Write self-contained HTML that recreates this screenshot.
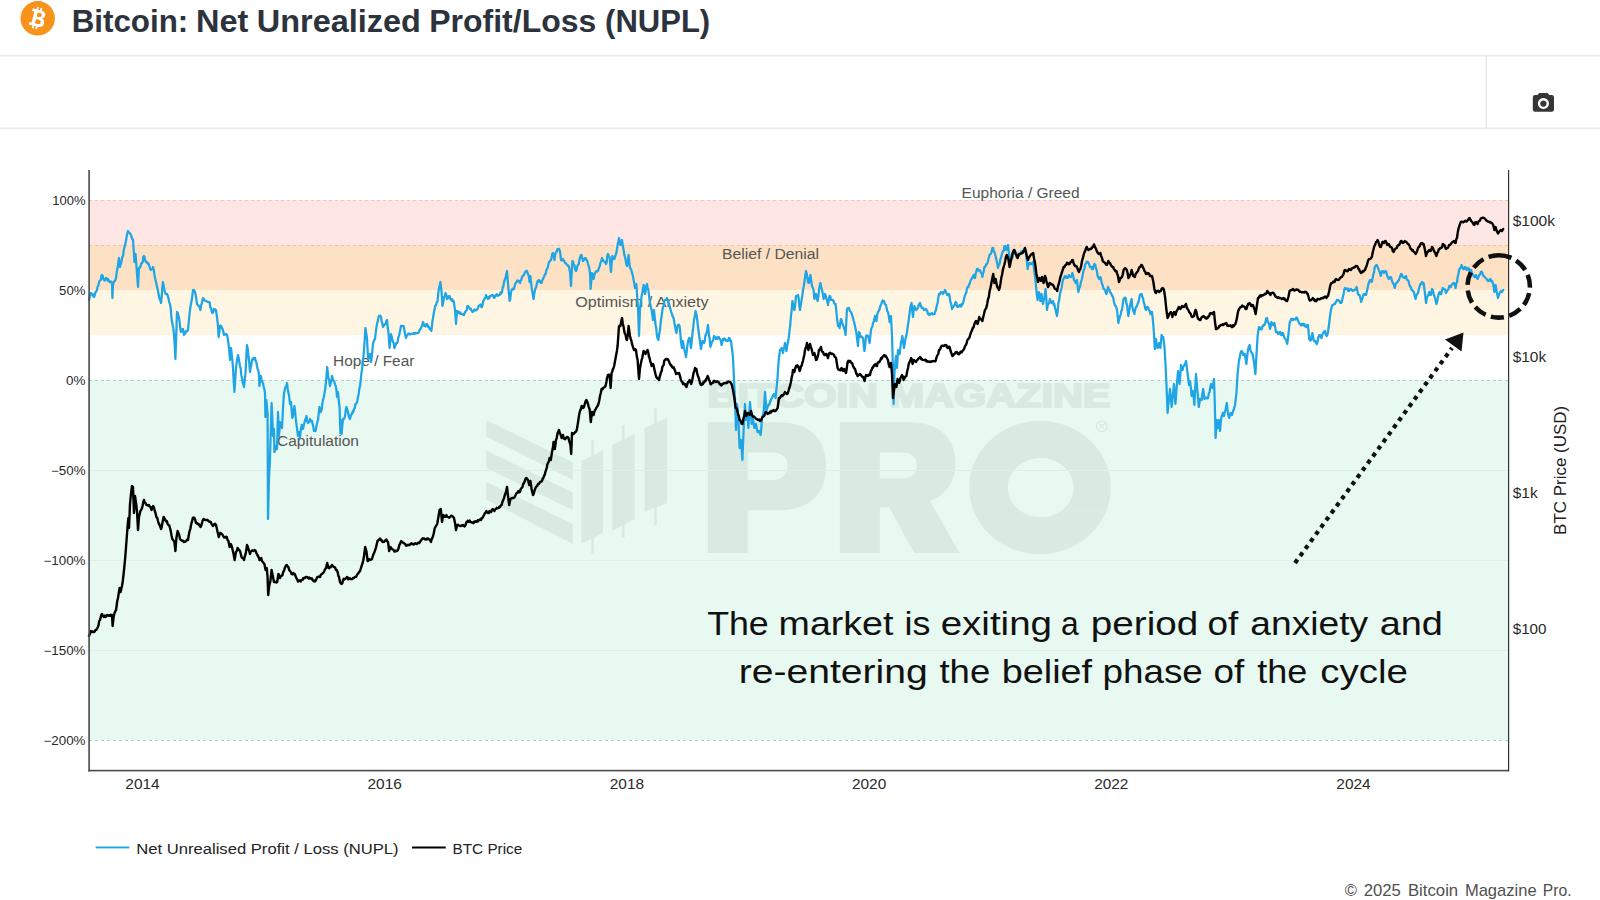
<!DOCTYPE html>
<html><head><meta charset="utf-8">
<style>
html,body{margin:0;padding:0;background:#fff;}
body{width:1600px;height:900px;overflow:hidden;position:relative;font-family:"Liberation Sans",sans-serif;}
svg{position:absolute;left:0;top:0;}
text{font-family:"Liberation Sans",sans-serif;}
.tk{font-size:12px;fill:#2a2a2a;}
.tx{font-size:14.2px;fill:#2a2a2a;}
.zn{font-size:14px;fill:#555;}
.lg{font-size:15.5px;fill:#222;}
</style></head><body>
<svg width="1600" height="900" viewBox="0 0 1600 900">
<!-- header -->
<rect x="0" y="54.95" width="1600" height="1.6" fill="#e9e9e9"/>
<rect x="0" y="127.5" width="1600" height="1.6" fill="#e9e9e9"/>
<rect x="1485.8" y="56" width="1.2" height="72" fill="#e4e4e4"/>
<circle cx="37.7" cy="18.3" r="17.2" fill="#f7931a"/>
<g transform="translate(37.7 18.3) rotate(14)" fill="#fff">
<path d="M-7.2,-8.5 H1.4 c3.4,0 5.2,1.6 5.2,4.1 c0,1.8 -1,3 -2.5,3.6 c2,0.5 3.3,2 3.3,4.2 c0,3 -2.2,4.9 -6,4.9 H-7.2 v-2.7 h2.300 V-5.8 h-2.300 z M-1.5,-5.6 v4 h2.500 c1.400,0 2.200,-0.800 2.200,-2 c0,-1.300 -0.800,-2 -2.200,-2 z M-1.5,1.200 v4.400 h2.900 c1.600,0 2.500,-0.800 2.500,-2.200 c0,-1.400 -0.900,-2.200 -2.500,-2.200 z" fill-rule="evenodd"/>
<rect x="-3.3" y="-11" width="1.8" height="3.2"/><rect x="0.3" y="-11" width="1.8" height="3.2"/>
<rect x="-3.3" y="7.8" width="1.8" height="3.2"/><rect x="0.3" y="7.8" width="1.8" height="3.2"/>
</g>
<g transform="translate(0 -0.33)">
<text x="71.69" y="32" font-size="30.7" fill="#2d333c" font-weight="bold" textLength="116.59" lengthAdjust="spacingAndGlyphs">Bitcoin:</text>
<text x="195.99" y="32" font-size="30.7" fill="#2d333c" font-weight="bold" textLength="52.33" lengthAdjust="spacingAndGlyphs">Net</text>
<text x="256.83" y="32" font-size="30.7" fill="#2d333c" font-weight="bold" textLength="163.96" lengthAdjust="spacingAndGlyphs">Unrealized</text>
<text x="429.26" y="32" font-size="30.7" fill="#2d333c" font-weight="bold" textLength="167.07" lengthAdjust="spacingAndGlyphs">Profit/Loss</text>
<text x="605.14" y="32" font-size="30.7" fill="#2d333c" font-weight="bold" textLength="105.07" lengthAdjust="spacingAndGlyphs">(NUPL)</text>
</g>
<!-- camera -->
<g transform="translate(1543.4 103.4)" fill="#363636">
<path d="M-10.6,-6.2 a2.2,2.2 0 0 1 2.2,-2.2 h2.6 l1.6,-2 h8.4 l1.6,2 h2.6 a2.2,2.2 0 0 1 2.2,2.2 v12.4 a2.2,2.2 0 0 1 -2.2,2.2 h-16.8 a2.2,2.2 0 0 1 -2.2,-2.2 z M0,-5.3 a5.5,5.5 0 1 0 0.01,0 z M0,-3 a3.2,3.2 0 1 1 -0.01,0 z" fill-rule="evenodd"/>
</g>
<!-- bands -->
<rect x="89" y="200" width="1419" height="45" fill="#fee6e4"/>
<rect x="89" y="245" width="1419" height="45" fill="#fde1c4"/>
<rect x="89" y="290" width="1419" height="45" fill="#fef5e2"/>
<rect x="89" y="380" width="1419" height="360" fill="#e7f9f0"/>
<!-- watermark -->
<g fill="#000" opacity="0.054">
<polygon points="486.300,420.200 572.700,462.200 572.700,479.700 486.300,436.500"/>
<polygon points="486.300,450.500 572.700,492.500 572.700,510 486.300,468"/>
<polygon points="486.300,482 572.700,524 572.700,543.800 486.300,499.500"/>
<polygon points="581.500,461 603,450.500 603,533 581.500,543.800"/>
<rect x="591.300" y="440" width="2.600" height="114"/>
<polygon points="612.300,444.700 634.500,434 634.500,519 612.300,531"/>
<rect x="622.000" y="424.800" width="2.600" height="113"/>
<polygon points="644.500,428 667,418 667,503 644.500,512"/>
<rect x="654.200" y="408.500" width="2.600" height="116.500"/>
<text x="707.500" y="407" font-size="34" font-weight="bold" textLength="403" lengthAdjust="spacingAndGlyphs" stroke="#000" stroke-width="2.2" stroke-linejoin="round">BITCOIN MAGAZINE</text>
<!-- P -->
<path fill-rule="evenodd" d="M707.900,422.300 H778 C812,422.300 826,441 826,466.300 C826,491.500 812,510.300 778,510.300 H747.800 V552.900 H707.900 Z M747.800,452.500 V480 H772 C783,480 787.600,474 787.600,466.300 C787.600,458.500 783,452.500 772,452.500 Z"/>
<!-- R -->
<path fill-rule="evenodd" d="M839.900,422.300 H908 C942,422.300 955.400,440 955.400,463.500 C955.400,482 946,495 930,501 L959.500,552.900 H914.100 L889.500,507.500 H879.800 V552.900 H839.900 Z M879.800,452.500 V478.600 H902 C912.500,478.600 916.900,473 916.900,465.500 C916.900,458 912.500,452.500 902,452.500 Z"/>
<!-- O -->
<path fill-rule="evenodd" d="M969.2,487.6 a70.8,66.7 0 1 0 141.6,0 a70.8,66.7 0 1 0 -141.6,0 Z M1007.7,487.6 a33,29.5 0 1 1 66,0 a33,29.5 0 1 1 -66,0 Z"/>
<circle cx="1101.700" cy="426.400" r="5.200" fill="none" stroke="#000" stroke-width="1.300"/>
<text x="1101.700" y="429" font-size="7" font-weight="bold" text-anchor="middle">R</text>
</g>
<!-- grid -->
<g stroke="#deefe7" stroke-width="1">
<line x1="89" y1="470.500" x2="1508" y2="470.500"/>
<line x1="89" y1="560.500" x2="1508" y2="560.500"/>
<line x1="89" y1="650.500" x2="1508" y2="650.500"/>
</g>
<g stroke-width="1" stroke-dasharray="3,3" fill="none">
<line x1="89" y1="200.500" x2="1508" y2="200.500" stroke="#f5c2b6"/>
<line x1="89" y1="245.500" x2="1508" y2="245.500" stroke="#f5c0a6"/>
<line x1="89" y1="380.500" x2="1508" y2="380.500" stroke="#b5cfc1"/>
<line x1="89" y1="740.500" x2="1508" y2="740.500" stroke="#b5cfc1"/>
</g>
<!-- zone labels -->
<g class="zn">
<text x="961.600" y="197.500" textLength="118" lengthAdjust="spacingAndGlyphs">Euphoria / Greed</text>
<text x="722" y="258.600" textLength="97" lengthAdjust="spacingAndGlyphs">Belief / Denial</text>
<text x="575.200" y="306.600" textLength="133.300" lengthAdjust="spacingAndGlyphs">Optimism / Anxiety</text>
<text x="333" y="366" textLength="81.400" lengthAdjust="spacingAndGlyphs">Hope / Fear</text>
<text x="277" y="445.600" textLength="82" lengthAdjust="spacingAndGlyphs">Capitulation</text>
</g>
<!-- lines -->
<path d="M89.0,300.0 L89.7,297.1 L90.3,294.1 L91.0,293.0 L91.8,294.4 L92.5,293.9 L93.2,296.1 L94.0,297.0 L94.8,294.8 L95.5,292.1 L96.2,291.8 L97.0,290.0 L97.6,286.5 L98.2,286.0 L98.9,282.9 L99.5,281.1 L100.1,280.4 L100.8,279.9 L101.4,275.6 L102.0,275.0 L102.7,275.8 L103.3,278.7 L104.0,280.0 L104.7,280.5 L105.3,278.9 L106.0,278.0 L106.8,278.5 L107.5,280.7 L108.2,279.1 L109.0,281.0 L109.8,282.3 L110.5,281.5 L111.2,281.7 L112.0,283.0 L112.4,298.0 L113.0,285.0 L113.8,282.0 L114.5,280.9 L115.2,280.8 L116.0,278.0 L116.8,271.9 L117.5,268.3 L118.2,263.5 L119.0,258.0 L120.0,267.0 L120.8,263.8 L121.5,261.7 L122.2,257.2 L123.0,256.0 L123.7,250.8 L124.3,247.6 L125.0,245.0 L125.8,242.1 L126.5,237.7 L127.2,233.8 L128.0,231.0 L128.8,232.2 L129.5,232.9 L130.2,233.5 L131.0,235.0 L131.7,237.6 L132.3,239.0 L133.0,240.0 L133.7,250.1 L134.4,262.0 L135.6,254.0 L136.4,265.3 L137.2,276.1 L138.0,287.0 L139.0,268.0 L139.8,267.8 L140.5,266.2 L141.2,263.6 L142.0,263.0 L142.7,262.3 L143.3,257.0 L144.0,256.0 L144.7,257.7 L145.3,260.9 L146.0,262.0 L146.8,261.9 L147.5,263.5 L148.2,263.1 L149.0,265.0 L149.7,267.2 L150.3,269.2 L151.0,270.0 L151.7,269.2 L152.3,269.0 L153.0,267.0 L153.8,270.1 L154.5,275.2 L155.2,278.6 L156.0,282.0 L156.7,285.3 L157.3,287.8 L158.0,291.0 L158.8,295.2 L159.5,298.6 L160.2,299.9 L161.0,303.0 L161.7,296.6 L162.3,287.5 L163.0,282.0 L163.7,286.0 L164.3,289.2 L165.0,292.0 L165.7,293.9 L166.3,294.1 L167.0,294.0 L167.8,295.7 L168.5,298.6 L169.2,302.1 L170.0,304.0 L170.7,308.3 L171.3,315.9 L172.0,322.0 L172.7,324.8 L173.3,328.7 L174.0,334.0 L174.7,345.0 L175.4,359.0 L176.2,336.4 L177.0,312.0 L177.7,312.7 L178.3,315.1 L179.0,318.0 L179.7,322.3 L180.3,328.6 L181.0,332.0 L181.7,329.8 L182.3,329.9 L183.0,329.0 L184.0,335.0 L184.7,333.8 L185.3,333.5 L186.0,331.0 L186.7,331.4 L187.3,331.2 L188.0,330.0 L188.7,322.6 L189.3,316.4 L190.0,310.0 L190.8,304.5 L191.5,301.3 L192.2,296.6 L193.0,290.0 L193.7,289.8 L194.3,290.5 L195.0,292.0 L195.7,295.1 L196.3,299.1 L197.0,304.0 L197.7,304.6 L198.3,305.6 L199.0,306.0 L199.7,307.2 L200.4,310.0 L201.1,305.3 L201.7,303.7 L202.3,300.5 L203.0,298.0 L203.8,298.9 L204.5,300.6 L205.2,300.7 L206.0,301.0 L206.8,301.3 L207.5,301.8 L208.2,302.1 L209.0,302.0 L209.7,302.4 L210.3,307.4 L211.0,308.0 L211.7,311.5 L212.4,313.0 L213.2,312.2 L214.0,309.0 L214.7,310.0 L215.3,309.4 L216.0,310.0 L216.7,315.0 L217.3,319.3 L218.0,326.0 L218.6,337.0 L219.3,332.0 L220.0,326.0 L220.7,325.6 L221.3,326.3 L222.0,328.0 L222.7,329.3 L223.3,331.5 L224.0,335.0 L224.8,334.7 L225.5,334.1 L226.2,334.0 L227.0,335.0 L227.7,338.1 L228.3,342.3 L229.0,348.0 L230.0,360.0 L231.0,348.0 L231.7,354.2 L232.3,359.7 L233.0,368.0 L233.7,381.3 L234.4,392.0 L235.2,380.4 L236.0,368.0 L236.7,362.4 L237.3,358.5 L238.0,355.0 L238.7,358.1 L239.3,361.9 L240.0,366.0 L240.7,368.7 L241.3,375.2 L242.0,378.0 L242.7,382.7 L243.3,383.9 L244.0,387.0 L244.8,379.4 L245.6,372.0 L246.3,357.1 L247.0,345.0 L247.7,348.6 L248.3,354.4 L249.0,360.0 L250.0,372.0 L250.7,367.2 L251.3,365.2 L252.0,360.0 L252.8,358.7 L253.5,357.9 L254.2,359.6 L255.0,358.0 L255.7,360.8 L256.3,362.1 L257.0,366.0 L257.7,369.2 L258.3,370.3 L259.0,375.0 L259.4,386.0 L260.2,381.1 L261.0,376.0 L261.7,380.0 L262.3,381.9 L263.0,383.0 L263.7,387.0 L264.3,388.8 L265.0,393.0 L265.4,417.0 L266.4,400.0 L267.6,414.0 L268.0,519.0 L269.0,478.0 L270.0,458.0 L270.8,430.0 L271.6,403.0 L272.3,418.3 L273.0,436.0 L274.0,429.0 L274.4,452.0 L275.2,450.0 L276.0,446.0 L277.0,449.0 L278.0,412.0 L279.0,436.0 L280.0,422.0 L280.7,424.1 L281.3,427.0 L282.0,428.0 L283.0,408.0 L284.0,393.0 L284.8,389.9 L285.5,387.0 L286.2,386.6 L287.0,383.0 L287.7,388.7 L288.3,392.2 L289.0,395.0 L290.0,404.0 L291.0,402.0 L291.7,411.1 L292.4,418.0 L293.1,415.1 L293.7,410.8 L294.4,406.0 L295.2,412.5 L296.0,421.0 L296.7,426.1 L297.3,430.5 L298.0,436.0 L299.0,432.0 L300.0,438.0 L300.8,429.9 L301.6,425.0 L302.3,425.4 L303.0,429.0 L303.7,425.2 L304.4,423.0 L305.1,419.8 L305.7,419.0 L306.4,416.0 L307.2,421.1 L308.0,423.0 L308.7,421.5 L309.3,421.6 L310.0,419.0 L310.7,420.9 L311.3,421.5 L312.0,421.0 L312.7,423.9 L313.3,426.7 L314.0,431.0 L314.8,430.5 L315.6,431.0 L316.4,426.3 L317.2,422.6 L318.0,420.0 L318.7,413.9 L319.4,407.0 L320.2,410.9 L321.0,412.0 L321.7,409.2 L322.3,403.9 L323.0,400.0 L323.7,397.5 L324.4,394.0 L325.2,389.0 L326.0,382.0 L327.2,367.0 L328.4,378.0 L329.2,380.5 L330.0,386.0 L330.7,383.2 L331.3,380.8 L332.0,376.0 L332.8,378.9 L333.6,380.8 L334.4,382.0 L335.1,384.6 L335.7,386.2 L336.4,390.0 L337.0,397.0 L338.0,392.0 L338.8,401.0 L339.6,408.0 L340.4,433.0 L341.0,420.0 L341.6,434.0 L342.3,425.9 L343.0,419.0 L343.7,419.2 L344.4,418.0 L345.1,416.0 L345.7,410.3 L346.4,407.0 L347.2,409.2 L348.0,412.0 L348.7,415.9 L349.3,417.5 L350.0,419.0 L350.7,416.3 L351.3,414.5 L352.0,414.0 L352.7,411.2 L353.3,412.0 L354.0,409.0 L354.7,408.3 L355.3,404.5 L356.0,404.0 L356.7,402.8 L357.3,401.0 L358.0,397.0 L358.7,393.9 L359.3,389.1 L360.0,386.0 L360.7,380.8 L361.3,374.0 L362.0,370.0 L362.7,361.6 L363.3,358.3 L364.0,350.0 L364.7,339.5 L365.4,328.0 L366.2,333.1 L367.0,338.0 L368.0,358.0 L368.7,358.0 L369.3,355.1 L370.0,354.0 L371.0,362.0 L371.7,357.3 L372.3,351.1 L373.0,344.0 L373.7,341.4 L374.3,339.9 L375.0,339.0 L375.7,333.3 L376.3,328.1 L377.0,324.0 L377.7,321.6 L378.3,317.8 L379.0,316.0 L379.7,316.2 L380.3,315.8 L381.0,317.0 L381.7,321.8 L382.3,323.2 L383.0,327.0 L383.7,325.9 L384.3,325.2 L385.0,324.0 L385.7,323.9 L386.3,321.1 L387.0,320.0 L387.7,327.5 L388.4,332.0 L389.6,348.0 L390.3,341.0 L391.0,334.0 L391.7,336.8 L392.3,339.4 L393.0,342.0 L393.7,343.3 L394.4,348.0 L395.0,346.6 L395.7,344.6 L396.4,342.8 L397.0,343.0 L397.7,341.7 L398.3,337.2 L399.0,336.0 L399.7,332.6 L400.3,330.1 L401.0,326.0 L401.6,326.1 L402.3,325.7 L403.0,326.0 L403.6,326.0 L404.4,330.2 L405.2,335.0 L406.0,338.0 L406.7,335.5 L407.3,335.5 L408.0,334.0 L408.8,333.5 L409.5,333.6 L410.2,334.5 L411.0,334.0 L411.8,333.8 L412.5,333.6 L413.2,333.8 L414.0,333.0 L414.7,333.8 L415.3,332.9 L416.0,333.2 L416.7,333.0 L417.3,333.0 L418.0,333.0 L418.8,332.3 L419.5,330.4 L420.2,329.3 L421.0,328.0 L421.7,325.9 L422.3,325.5 L423.0,322.0 L423.7,323.9 L424.3,325.8 L425.0,326.0 L425.7,326.4 L426.3,324.1 L427.0,324.0 L427.7,325.2 L428.3,327.2 L429.0,327.0 L429.8,329.3 L430.6,328.6 L431.4,331.0 L432.2,323.2 L433.0,318.0 L433.7,313.8 L434.4,310.0 L435.2,306.0 L436.0,305.0 L436.8,302.2 L437.6,301.0 L438.3,293.0 L439.0,288.0 L439.7,285.6 L440.4,282.0 L441.6,292.0 L442.4,306.0 L443.2,302.5 L444.0,297.0 L444.8,296.3 L445.6,293.0 L446.3,294.8 L447.0,299.0 L447.7,298.6 L448.3,297.4 L449.0,296.0 L449.7,296.0 L450.3,299.1 L451.0,299.0 L451.6,300.6 L452.3,299.3 L453.0,301.6 L453.6,301.0 L454.3,305.1 L455.0,310.0 L456.0,324.0 L457.0,311.0 L457.7,311.3 L458.3,312.8 L459.0,312.0 L459.7,313.5 L460.3,312.5 L461.0,314.0 L461.8,314.1 L462.5,314.5 L463.2,314.4 L464.0,315.0 L464.7,312.8 L465.3,311.8 L466.0,311.0 L466.7,310.1 L467.3,306.1 L468.0,306.0 L468.7,307.1 L469.3,307.8 L470.0,309.0 L470.8,308.7 L471.6,310.6 L472.4,312.0 L473.0,311.8 L473.7,311.0 L474.4,309.5 L475.0,310.0 L475.8,310.6 L476.5,309.7 L477.2,309.6 L478.0,308.0 L478.7,305.9 L479.3,305.4 L480.0,305.0 L480.7,304.5 L481.3,307.0 L482.0,307.0 L482.7,303.9 L483.3,301.0 L484.0,300.0 L484.7,298.1 L485.3,298.0 L486.0,295.0 L486.7,297.3 L487.3,296.9 L488.0,299.0 L488.7,297.0 L489.3,298.2 L490.0,296.0 L490.7,295.8 L491.3,295.8 L492.0,295.0 L492.7,294.9 L493.3,295.8 L494.0,298.0 L494.7,297.5 L495.3,295.8 L496.0,295.0 L496.8,294.1 L497.5,295.9 L498.2,295.3 L499.0,295.0 L499.8,295.0 L500.5,292.5 L501.2,293.6 L502.0,292.0 L502.7,287.1 L503.3,286.6 L504.0,282.0 L504.8,279.8 L505.6,278.0 L506.3,273.9 L507.0,271.0 L507.7,279.7 L508.4,288.0 L509.6,301.0 L510.3,298.8 L510.9,292.9 L511.6,290.0 L512.4,288.8 L513.2,289.4 L514.0,289.0 L514.7,286.1 L515.3,283.6 L516.0,283.0 L516.7,281.5 L517.3,280.5 L518.0,281.0 L518.7,280.9 L519.3,281.9 L520.0,283.0 L520.7,280.3 L521.3,279.9 L522.0,277.0 L522.7,275.8 L523.3,275.7 L524.0,275.0 L524.7,272.7 L525.3,271.9 L526.0,271.0 L526.7,270.7 L527.3,272.3 L528.0,274.0 L528.8,276.3 L529.6,282.0 L530.4,276.0 L531.2,283.8 L532.0,290.0 L532.8,294.7 L533.6,299.0 L534.3,293.4 L535.0,290.0 L535.7,287.6 L536.3,286.9 L537.0,283.0 L537.7,280.9 L538.3,281.9 L539.0,280.0 L539.7,280.8 L540.3,282.0 L541.0,283.0 L541.7,282.7 L542.3,280.0 L543.0,279.0 L543.7,277.4 L544.3,276.3 L545.0,274.0 L545.7,273.9 L546.3,270.2 L547.0,269.0 L547.7,267.8 L548.3,265.1 L549.0,262.0 L549.7,261.7 L550.3,260.4 L551.0,260.0 L551.7,257.1 L552.3,253.8 L553.0,253.0 L553.7,255.2 L554.4,260.0 L555.2,254.5 L556.0,252.0 L556.7,251.7 L557.3,249.3 L558.0,249.0 L558.8,248.7 L559.6,250.0 L560.3,253.5 L561.0,260.0 L561.7,260.4 L562.3,260.2 L563.0,259.0 L563.7,260.8 L564.3,261.0 L565.0,263.0 L565.7,263.0 L566.3,263.8 L567.0,265.0 L567.7,265.6 L568.3,265.5 L569.0,267.0 L570.0,272.0 L571.0,286.0 L571.7,273.3 L572.4,261.0 L573.1,261.6 L573.7,265.1 L574.4,265.0 L575.2,269.7 L576.0,271.0 L576.7,269.2 L577.3,266.1 L578.0,265.0 L578.8,264.1 L579.5,259.3 L580.2,257.0 L581.0,255.0 L581.7,255.3 L582.3,258.6 L583.0,261.0 L583.6,260.2 L584.3,259.5 L585.0,258.0 L585.6,258.0 L586.4,260.0 L587.2,260.4 L588.0,264.0 L588.7,266.2 L589.3,268.6 L590.0,273.0 L590.6,289.0 L591.3,280.6 L592.0,273.0 L592.8,274.4 L593.6,279.0 L594.3,275.0 L594.9,273.6 L595.6,272.0 L596.4,271.1 L597.2,271.5 L598.0,271.0 L598.8,268.4 L599.6,266.5 L600.4,263.0 L601.2,261.1 L602.0,258.0 L602.7,259.6 L603.3,261.0 L604.0,261.0 L604.7,261.7 L605.3,262.5 L606.0,264.0 L606.7,262.4 L607.3,256.1 L608.0,254.0 L608.8,256.2 L609.6,257.0 L610.3,265.0 L611.0,272.0 L611.7,262.4 L612.4,256.0 L613.1,257.9 L613.7,259.1 L614.4,259.0 L615.0,256.9 L615.7,254.8 L616.4,252.6 L617.0,249.0 L617.7,244.1 L618.3,241.7 L619.0,238.0 L619.7,241.5 L620.4,245.0 L621.2,243.7 L622.0,240.0 L622.8,246.1 L623.6,250.0 L624.3,254.6 L625.0,257.0 L625.7,260.3 L626.3,264.4 L627.0,266.0 L627.8,261.1 L628.6,255.0 L629.3,262.2 L630.0,268.0 L630.7,268.8 L631.3,269.8 L632.0,273.0 L632.8,275.2 L633.6,280.0 L634.3,283.5 L635.0,288.0 L635.7,284.6 L636.4,284.0 L637.2,297.2 L638.0,308.0 L639.0,336.0 L640.0,309.0 L640.8,302.7 L641.6,296.0 L642.3,292.8 L642.9,289.1 L643.6,285.0 L644.3,290.1 L645.0,294.0 L645.7,290.6 L646.3,285.6 L647.0,284.0 L647.7,288.0 L648.4,290.0 L649.2,297.4 L650.0,303.0 L650.8,306.5 L651.6,310.0 L652.3,315.1 L653.0,320.0 L654.0,310.0 L654.8,318.1 L655.6,325.0 L656.3,329.0 L657.0,336.0 L657.7,338.8 L658.4,340.0 L659.2,334.1 L660.0,330.0 L660.8,321.5 L661.6,316.0 L662.3,310.7 L663.0,307.0 L663.7,305.5 L664.3,301.3 L665.0,300.0 L665.7,299.9 L666.3,299.9 L667.0,298.0 L667.7,300.0 L668.3,301.6 L669.0,304.0 L669.7,306.4 L670.4,309.0 L671.2,312.1 L672.0,314.0 L672.8,316.9 L673.6,318.0 L674.3,322.4 L675.0,326.0 L675.7,330.0 L676.4,333.0 L677.2,327.5 L678.0,325.0 L678.8,324.7 L679.6,326.0 L680.3,333.1 L681.0,342.0 L682.0,348.0 L683.0,341.0 L683.7,346.4 L684.4,350.0 L685.2,352.8 L686.0,357.0 L686.8,350.7 L687.6,344.0 L688.3,340.3 L688.9,338.5 L689.6,338.0 L690.3,342.2 L691.0,348.0 L691.7,341.6 L692.4,334.0 L693.2,327.7 L694.0,320.0 L694.8,316.1 L695.6,311.0 L696.3,313.8 L697.0,318.0 L697.7,324.1 L698.4,330.0 L699.2,335.9 L700.0,342.0 L701.0,349.0 L701.7,344.9 L702.4,341.0 L703.2,341.0 L704.0,343.0 L704.7,341.4 L705.3,335.9 L706.0,334.0 L706.7,332.7 L707.3,329.5 L708.0,325.0 L709.0,335.0 L709.7,339.3 L710.4,347.0 L711.2,344.4 L712.0,342.0 L712.7,341.1 L713.3,339.6 L714.0,336.0 L714.7,336.9 L715.3,337.4 L716.0,339.0 L716.7,337.6 L717.3,338.8 L718.0,337.0 L718.7,336.9 L719.3,338.5 L720.0,339.0 L720.8,340.7 L721.6,345.0 L722.3,342.1 L723.0,339.0 L723.7,339.9 L724.3,338.3 L725.0,339.0 L725.7,340.5 L726.3,340.4 L727.0,341.0 L727.7,341.1 L728.3,339.6 L729.0,338.0 L729.7,338.3 L730.3,341.1 L731.0,341.0 L731.7,346.5 L732.4,352.0 L733.0,358.0 L734.0,380.0 L735.0,400.0 L736.0,430.0 L737.0,404.0 L737.7,410.3 L738.4,420.0 L739.6,448.0 L740.3,442.3 L741.0,440.0 L741.7,450.0 L742.4,460.0 L743.6,430.0 L744.3,416.8 L745.0,404.0 L746.0,420.0 L746.8,417.4 L747.6,416.0 L748.4,428.0 L749.2,413.7 L750.0,402.0 L750.8,412.5 L751.6,424.0 L752.3,420.4 L753.0,418.0 L753.7,424.2 L754.4,428.0 L755.2,424.4 L756.0,424.0 L756.8,428.9 L757.6,432.0 L758.3,432.3 L759.0,431.0 L759.8,431.8 L760.6,435.0 L761.3,428.0 L762.0,418.0 L762.8,415.7 L763.6,412.0 L764.3,403.4 L765.0,392.0 L765.7,400.8 L766.4,411.0 L767.2,408.1 L768.0,406.0 L768.7,404.3 L769.3,404.8 L770.0,402.0 L770.7,400.9 L771.3,398.9 L772.0,398.0 L772.7,396.5 L773.3,394.7 L774.0,394.0 L774.8,394.5 L775.6,398.0 L776.3,389.6 L777.0,384.0 L777.7,375.2 L778.4,364.0 L779.2,356.2 L780.0,350.0 L780.8,350.1 L781.6,348.0 L782.3,349.6 L783.0,353.0 L783.7,348.8 L784.3,346.4 L785.0,343.0 L785.7,345.9 L786.4,351.0 L787.2,346.1 L788.0,342.0 L788.8,337.6 L789.6,330.0 L790.3,324.3 L791.0,316.0 L791.7,309.6 L792.4,301.0 L793.1,304.5 L793.7,308.4 L794.4,310.0 L795.2,304.5 L796.0,296.0 L796.7,295.8 L797.3,295.8 L798.0,295.0 L798.7,298.4 L799.3,305.8 L800.0,310.0 L800.8,304.8 L801.6,300.0 L802.3,295.9 L803.0,290.0 L803.7,286.5 L804.4,282.0 L805.2,275.8 L806.0,271.0 L806.8,273.9 L807.6,280.0 L808.3,282.8 L809.0,283.0 L809.7,277.7 L810.4,275.0 L811.2,280.4 L812.0,286.0 L812.8,287.5 L813.6,290.0 L814.4,299.0 L815.2,295.8 L816.0,294.0 L816.8,298.3 L817.6,301.0 L818.3,297.2 L819.0,290.0 L819.7,285.7 L820.4,283.0 L821.2,287.0 L822.0,290.0 L822.8,293.8 L823.6,299.0 L824.3,296.7 L825.0,294.0 L825.7,296.1 L826.4,299.0 L827.2,300.8 L828.0,305.0 L828.8,299.3 L829.6,296.0 L830.3,296.5 L830.9,299.9 L831.6,300.0 L832.3,300.3 L832.9,300.0 L833.6,301.0 L834.3,303.1 L834.9,304.4 L835.6,304.0 L836.3,310.8 L837.0,318.0 L838.0,326.0 L838.8,326.1 L839.6,328.0 L840.3,322.4 L841.0,319.0 L841.7,320.1 L842.4,324.0 L843.2,325.5 L844.0,328.0 L844.8,330.1 L845.6,335.0 L846.3,321.1 L847.0,309.0 L847.7,308.1 L848.3,308.5 L849.0,308.0 L849.7,310.5 L850.3,311.4 L851.0,312.0 L851.7,313.7 L852.3,315.7 L853.0,318.0 L853.7,320.8 L854.3,322.9 L855.0,326.0 L855.7,329.4 L856.3,332.5 L857.0,338.0 L858.0,346.0 L859.0,332.0 L859.7,332.9 L860.3,336.9 L861.0,337.0 L861.7,336.5 L862.3,337.7 L863.0,338.0 L863.7,345.0 L864.4,351.0 L865.2,344.8 L866.0,336.0 L866.7,335.4 L867.3,335.5 L868.0,336.0 L868.8,338.6 L869.6,343.0 L870.3,336.1 L871.0,330.0 L871.7,327.5 L872.3,326.9 L873.0,323.0 L873.7,321.9 L874.3,319.6 L875.0,316.0 L875.7,316.8 L876.4,321.0 L877.2,314.9 L878.0,312.0 L878.7,311.0 L879.3,310.0 L880.0,307.0 L880.7,305.2 L881.3,303.9 L882.0,302.0 L882.7,300.5 L883.3,301.1 L884.0,301.0 L884.7,303.6 L885.3,304.6 L886.0,305.0 L886.7,308.6 L887.3,311.3 L888.0,312.0 L888.8,316.1 L889.6,322.0 L890.3,317.6 L891.0,316.0 L892.0,336.0 L893.0,370.0 L893.6,404.0 L894.4,374.0 L895.2,363.8 L896.0,356.0 L897.0,368.0 L898.0,350.0 L898.8,352.1 L899.6,354.0 L900.3,348.6 L901.0,342.0 L901.7,340.5 L902.4,336.0 L903.2,342.8 L904.0,348.0 L904.8,343.5 L905.6,338.0 L906.3,335.9 L907.0,332.0 L907.7,326.9 L908.4,322.0 L909.2,316.2 L910.0,310.0 L910.8,304.9 L911.6,303.0 L912.3,311.0 L913.0,317.0 L913.7,310.6 L914.4,306.0 L915.1,308.6 L915.7,309.1 L916.4,310.0 L917.2,308.5 L918.0,308.0 L918.7,305.1 L919.3,303.9 L920.0,303.0 L920.7,305.1 L921.3,307.0 L922.0,308.0 L922.7,307.7 L923.3,308.3 L924.0,310.0 L924.7,309.7 L925.3,309.5 L926.0,309.0 L926.7,310.3 L927.3,311.4 L928.0,314.0 L928.7,314.6 L929.3,313.6 L930.0,315.0 L930.7,313.8 L931.3,313.6 L932.0,313.0 L932.7,314.4 L933.3,314.0 L934.0,314.0 L934.7,313.8 L935.3,311.3 L936.0,310.0 L936.8,305.6 L937.6,303.0 L938.3,297.6 L939.0,294.0 L939.7,294.5 L940.3,293.2 L941.0,292.0 L941.7,292.2 L942.3,292.1 L943.0,294.0 L943.7,292.7 L944.3,291.9 L945.0,290.0 L945.7,291.4 L946.3,292.5 L947.0,295.0 L947.7,295.0 L948.3,295.3 L949.0,294.0 L949.7,297.0 L950.4,302.0 L951.2,303.9 L952.0,309.0 L952.7,307.6 L953.3,306.8 L954.0,306.0 L954.8,304.6 L955.6,302.0 L956.3,302.7 L956.9,306.3 L957.6,307.0 L958.3,306.9 L958.9,305.7 L959.6,305.0 L960.3,304.7 L960.9,306.7 L961.6,306.0 L962.3,303.7 L962.9,303.7 L963.6,301.0 L964.3,297.7 L964.9,295.4 L965.6,294.0 L966.3,292.6 L966.9,288.6 L967.6,287.0 L968.3,287.2 L968.9,285.0 L969.6,284.0 L970.3,281.3 L970.9,279.8 L971.6,279.0 L972.3,277.4 L972.9,276.8 L973.6,275.0 L974.3,277.9 L975.0,278.0 L975.7,273.8 L976.3,271.6 L977.0,269.0 L977.7,268.7 L978.3,270.7 L979.0,270.0 L979.7,270.0 L980.3,270.8 L981.0,273.0 L981.7,273.5 L982.4,277.0 L983.1,273.3 L983.7,271.7 L984.4,267.0 L985.1,267.1 L985.7,265.6 L986.4,264.0 L987.1,264.0 L987.7,262.1 L988.4,259.0 L989.1,256.8 L989.7,254.6 L990.4,254.0 L991.1,253.5 L991.7,250.9 L992.4,248.0 L993.1,247.9 L993.7,251.2 L994.4,252.0 L995.2,254.6 L996.0,258.0 L996.7,260.9 L997.3,264.1 L998.0,268.0 L998.8,264.9 L999.6,264.0 L1000.3,259.3 L1001.0,258.0 L1001.7,254.9 L1002.3,252.8 L1003.0,251.0 L1003.7,250.8 L1004.3,246.4 L1005.0,246.0 L1005.7,249.6 L1006.4,250.0 L1007.2,246.5 L1008.0,245.0 L1009.0,254.0 L1009.7,256.5 L1010.4,260.0 L1011.2,259.8 L1012.0,258.0 L1012.7,256.5 L1013.3,252.4 L1014.0,250.0 L1014.7,249.8 L1015.3,251.9 L1016.0,253.0 L1016.7,253.6 L1017.3,256.2 L1018.0,256.0 L1018.7,254.2 L1019.3,253.6 L1020.0,253.0 L1020.7,253.6 L1021.3,251.3 L1022.0,252.0 L1022.7,250.8 L1023.3,250.9 L1024.0,249.0 L1024.7,251.5 L1025.3,250.8 L1026.0,254.0 L1026.8,259.9 L1027.6,269.0 L1028.3,264.5 L1029.0,263.0 L1029.7,264.3 L1030.3,263.1 L1031.0,264.0 L1031.7,264.0 L1032.3,263.7 L1033.0,262.0 L1033.7,266.4 L1034.4,272.0 L1035.2,278.2 L1036.0,286.0 L1036.8,294.6 L1037.6,300.0 L1038.3,296.4 L1039.0,292.0 L1039.7,295.7 L1040.4,301.0 L1041.6,294.0 L1042.3,299.8 L1043.0,304.0 L1043.7,300.4 L1044.4,298.0 L1045.6,289.0 L1046.3,298.7 L1047.0,310.0 L1047.7,305.3 L1048.4,304.0 L1049.2,302.4 L1050.0,299.0 L1050.8,302.4 L1051.6,303.0 L1052.3,302.4 L1053.0,301.0 L1053.7,304.9 L1054.3,304.0 L1055.0,308.0 L1055.7,309.7 L1056.3,313.2 L1057.0,316.0 L1057.7,311.1 L1058.4,303.0 L1059.2,300.1 L1060.0,294.0 L1060.8,290.6 L1061.6,288.0 L1062.3,283.1 L1063.0,280.0 L1063.7,278.5 L1064.3,277.3 L1065.0,276.0 L1065.7,277.7 L1066.3,276.5 L1067.0,278.0 L1067.7,277.8 L1068.3,276.7 L1069.0,275.0 L1069.7,276.5 L1070.3,277.0 L1071.0,277.0 L1071.7,275.4 L1072.4,273.0 L1073.2,275.9 L1074.0,280.0 L1074.8,281.0 L1075.6,283.0 L1076.3,281.1 L1077.0,280.0 L1077.7,287.0 L1078.4,292.0 L1079.2,288.0 L1080.0,287.0 L1080.8,282.4 L1081.6,280.0 L1082.3,277.4 L1083.0,273.0 L1083.7,270.1 L1084.4,269.0 L1085.2,264.5 L1086.0,263.0 L1086.7,261.6 L1087.3,262.5 L1088.0,262.0 L1088.8,263.4 L1089.6,266.0 L1090.3,267.4 L1090.9,267.5 L1091.6,267.0 L1092.3,269.3 L1093.0,269.0 L1093.7,265.7 L1094.4,264.0 L1095.2,264.6 L1096.0,268.0 L1096.8,270.6 L1097.6,276.0 L1098.3,277.5 L1099.0,279.0 L1099.7,278.6 L1100.4,277.0 L1101.2,280.3 L1102.0,284.0 L1102.8,285.6 L1103.6,289.0 L1104.3,289.3 L1105.0,290.0 L1105.7,292.4 L1106.4,294.0 L1107.2,291.1 L1108.0,287.0 L1108.8,289.2 L1109.6,290.0 L1110.3,292.6 L1111.0,293.0 L1111.7,295.0 L1112.4,296.0 L1113.2,297.7 L1114.0,302.0 L1114.8,305.1 L1115.6,306.0 L1116.3,307.3 L1117.0,310.0 L1117.7,316.7 L1118.4,323.0 L1119.2,319.1 L1120.0,316.0 L1120.7,314.8 L1121.3,310.9 L1122.0,310.0 L1122.8,303.6 L1123.6,299.0 L1124.3,298.1 L1124.9,297.6 L1125.6,298.0 L1126.3,302.8 L1127.0,305.0 L1127.7,310.8 L1128.4,316.0 L1129.2,310.4 L1130.0,306.0 L1130.8,302.1 L1131.6,299.0 L1132.3,306.2 L1133.0,310.0 L1133.7,312.0 L1134.4,314.0 L1135.2,309.6 L1136.0,307.0 L1136.7,306.6 L1137.3,304.8 L1138.0,303.0 L1138.8,301.2 L1139.6,296.0 L1140.3,294.3 L1140.9,294.6 L1141.6,294.0 L1142.3,297.1 L1143.0,298.0 L1143.7,302.2 L1144.4,304.0 L1145.2,308.5 L1146.0,310.0 L1146.8,307.1 L1147.6,307.0 L1148.3,307.9 L1149.0,310.0 L1149.7,310.7 L1150.4,314.0 L1151.2,312.2 L1152.0,312.0 L1153.0,321.0 L1154.0,334.0 L1154.8,349.0 L1156.0,339.0 L1156.8,345.2 L1157.6,348.0 L1158.4,345.8 L1159.2,343.0 L1160.4,348.0 L1161.6,335.0 L1162.4,337.1 L1163.2,337.0 L1164.4,346.0 L1165.6,366.0 L1166.6,388.0 L1167.6,413.0 L1168.8,400.0 L1170.0,389.0 L1170.8,397.6 L1171.6,407.0 L1172.8,396.0 L1174.0,384.0 L1174.7,395.3 L1175.4,404.0 L1176.1,394.8 L1176.8,386.0 L1178.0,371.0 L1178.8,376.7 L1179.6,384.0 L1180.3,375.5 L1181.0,365.0 L1181.8,369.1 L1182.6,370.0 L1183.3,366.6 L1184.0,366.0 L1184.7,364.6 L1185.3,363.1 L1186.0,361.0 L1186.8,366.5 L1187.6,374.0 L1188.3,379.0 L1189.0,385.0 L1190.0,381.0 L1190.8,387.2 L1191.6,396.0 L1192.8,391.0 L1193.6,397.0 L1194.4,405.0 L1195.2,388.6 L1196.0,374.0 L1197.2,388.0 L1198.0,397.8 L1198.8,407.0 L1200.0,399.0 L1200.8,399.9 L1201.6,400.0 L1202.4,393.5 L1203.2,389.0 L1204.4,399.0 L1205.2,397.4 L1206.0,398.0 L1206.7,397.7 L1207.3,398.4 L1208.0,398.0 L1208.8,393.9 L1209.6,392.0 L1210.3,387.3 L1211.0,384.0 L1211.7,385.0 L1212.4,388.0 L1213.2,384.5 L1214.0,379.0 L1214.8,404.0 L1215.6,438.0 L1216.8,420.0 L1218.0,428.0 L1219.2,420.0 L1220.0,431.0 L1221.2,418.0 L1222.0,415.7 L1222.8,413.0 L1224.0,416.0 L1224.8,411.5 L1225.6,410.0 L1226.8,403.0 L1228.0,414.0 L1229.2,418.0 L1230.4,413.0 L1231.2,413.0 L1232.0,415.0 L1232.8,412.1 L1233.6,410.0 L1234.3,407.7 L1235.0,405.0 L1235.7,399.5 L1236.4,393.0 L1237.6,374.0 L1238.8,362.0 L1240.0,356.0 L1240.8,352.1 L1241.6,351.0 L1242.4,351.9 L1243.2,355.0 L1244.0,355.0 L1244.8,354.0 L1245.6,358.7 L1246.4,364.0 L1247.2,356.2 L1248.0,350.0 L1248.8,346.8 L1249.6,345.0 L1250.4,350.1 L1251.2,352.0 L1252.0,352.9 L1252.8,355.0 L1254.0,362.0 L1254.7,368.2 L1255.4,374.0 L1256.4,356.0 L1257.6,336.0 L1258.3,331.0 L1259.0,327.0 L1259.7,327.5 L1260.3,329.2 L1261.0,329.0 L1261.7,329.4 L1262.3,326.6 L1263.0,326.0 L1263.7,324.6 L1264.3,325.2 L1265.0,324.0 L1265.7,321.0 L1266.3,318.3 L1267.0,318.0 L1267.8,321.9 L1268.6,323.0 L1269.3,325.7 L1270.0,329.0 L1270.7,326.6 L1271.4,322.0 L1272.2,323.2 L1273.0,325.0 L1273.7,325.0 L1274.4,323.0 L1275.2,327.4 L1276.0,332.0 L1276.7,331.8 L1277.3,332.1 L1278.0,334.0 L1278.7,333.5 L1279.3,333.0 L1280.0,332.0 L1280.8,334.7 L1281.6,335.0 L1282.3,332.9 L1283.0,333.0 L1283.7,335.9 L1284.4,338.0 L1285.2,338.7 L1286.0,340.0 L1287.2,344.0 L1288.4,335.0 L1289.6,323.0 L1290.4,321.0 L1291.2,319.0 L1292.1,318.7 L1293.0,320.0 L1293.7,319.2 L1294.3,319.4 L1295.0,319.0 L1295.7,319.6 L1296.3,317.5 L1297.0,318.0 L1297.8,320.0 L1298.6,322.0 L1299.5,323.8 L1300.4,324.0 L1301.1,325.4 L1301.7,324.0 L1302.4,325.0 L1303.1,323.8 L1303.7,325.3 L1304.4,324.0 L1305.1,326.3 L1305.7,326.0 L1306.4,327.0 L1307.2,324.8 L1308.0,325.0 L1309.2,339.0 L1310.1,340.5 L1311.0,340.0 L1311.7,336.1 L1312.4,333.0 L1313.6,340.0 L1314.4,341.4 L1315.2,341.0 L1316.0,342.9 L1316.8,344.0 L1317.6,341.6 L1318.4,337.0 L1319.2,335.1 L1320.0,335.0 L1320.8,337.3 L1321.6,338.0 L1322.4,334.5 L1323.2,333.0 L1324.1,331.8 L1325.0,331.0 L1325.8,334.7 L1326.6,336.0 L1327.3,335.1 L1328.0,332.0 L1329.2,323.0 L1330.4,313.0 L1331.6,307.0 L1332.4,305.2 L1333.2,305.0 L1334.1,303.9 L1335.0,304.0 L1335.7,302.4 L1336.3,301.4 L1337.0,300.0 L1337.7,300.1 L1338.3,299.8 L1339.0,301.0 L1339.7,301.0 L1340.3,302.9 L1341.0,303.0 L1341.7,302.4 L1342.4,299.0 L1343.6,294.0 L1344.3,289.4 L1345.0,288.0 L1345.7,288.5 L1346.3,289.2 L1347.0,289.0 L1347.7,288.5 L1348.3,291.2 L1349.0,291.0 L1349.7,289.4 L1350.3,289.9 L1351.0,289.0 L1351.7,289.8 L1352.3,290.7 L1353.0,291.0 L1353.7,290.2 L1354.3,290.2 L1355.0,290.0 L1355.8,288.7 L1356.6,287.0 L1357.3,290.2 L1358.0,294.0 L1358.8,294.9 L1359.6,295.0 L1360.4,298.3 L1361.2,302.0 L1362.0,299.3 L1362.8,297.0 L1363.6,294.1 L1364.4,294.0 L1365.2,294.8 L1366.0,295.0 L1367.2,290.0 L1368.4,284.0 L1369.2,282.0 L1370.0,280.0 L1370.8,280.3 L1371.6,282.0 L1372.4,279.4 L1373.2,275.0 L1374.0,272.0 L1374.8,267.0 L1375.6,265.9 L1376.4,265.0 L1377.2,265.6 L1378.0,268.0 L1378.8,269.9 L1379.6,272.0 L1380.8,276.0 L1381.6,272.1 L1382.4,271.0 L1383.2,271.0 L1384.0,273.0 L1384.8,271.8 L1385.6,271.0 L1386.4,272.1 L1387.2,276.0 L1388.0,277.3 L1388.8,279.0 L1389.6,278.0 L1390.4,277.0 L1391.2,277.5 L1392.0,281.0 L1392.8,282.9 L1393.6,284.0 L1394.8,288.0 L1395.6,284.0 L1396.4,283.0 L1397.2,282.6 L1398.0,281.0 L1398.8,280.3 L1399.6,278.0 L1400.3,276.0 L1401.0,274.0 L1401.8,274.2 L1402.6,277.0 L1403.5,277.5 L1404.4,278.0 L1405.2,276.7 L1406.0,276.0 L1406.8,279.5 L1407.6,280.0 L1408.4,280.8 L1409.2,284.0 L1410.0,286.5 L1410.8,287.0 L1411.6,290.0 L1412.4,290.0 L1413.2,291.6 L1414.0,292.0 L1414.8,296.6 L1415.6,299.0 L1416.4,295.4 L1417.2,294.0 L1418.0,293.2 L1418.8,289.0 L1419.6,286.5 L1420.4,284.0 L1421.2,284.2 L1422.0,282.0 L1422.8,283.5 L1423.6,283.0 L1424.8,292.0 L1426.0,303.0 L1426.8,298.3 L1427.6,296.0 L1428.4,294.9 L1429.2,292.0 L1430.0,294.8 L1430.8,295.0 L1432.0,289.0 L1432.8,290.0 L1433.6,294.0 L1434.4,296.0 L1435.2,299.0 L1436.4,304.0 L1437.2,301.4 L1438.0,297.0 L1438.8,293.3 L1439.6,292.0 L1440.4,294.0 L1441.2,294.0 L1442.0,290.2 L1442.8,288.0 L1443.6,289.2 L1444.4,289.0 L1445.2,289.8 L1446.0,293.0 L1446.8,291.5 L1447.6,290.0 L1448.4,289.4 L1449.2,286.0 L1450.0,285.8 L1450.8,287.0 L1451.6,284.8 L1452.4,284.0 L1453.2,283.5 L1454.0,283.0 L1454.8,284.9 L1455.6,288.0 L1456.3,283.4 L1457.0,282.0 L1457.7,276.9 L1458.4,274.0 L1459.2,269.8 L1460.0,268.0 L1460.8,267.8 L1461.6,265.0 L1462.4,267.6 L1463.2,269.0 L1464.0,269.0 L1464.8,267.0 L1465.6,267.5 L1466.4,270.0 L1467.2,269.7 L1468.0,268.0 L1468.8,268.4 L1469.6,271.0 L1470.4,270.6 L1471.2,270.0 L1472.0,273.0 L1472.8,275.0 L1473.6,275.6 L1474.4,277.0 L1475.2,277.0 L1476.0,275.0 L1476.8,277.2 L1477.6,279.0 L1478.4,277.3 L1479.2,275.0 L1480.0,274.6 L1480.8,272.0 L1481.6,271.6 L1482.4,273.0 L1483.2,275.9 L1484.0,276.0 L1484.8,277.3 L1485.6,278.0 L1486.4,278.7 L1487.2,280.0 L1488.0,281.2 L1488.8,281.0 L1489.6,279.4 L1490.4,279.0 L1491.2,281.3 L1492.0,281.0 L1493.2,284.0 L1494.4,292.0 L1495.6,285.0 L1496.8,292.0 L1498.0,298.0 L1499.2,294.0 L1500.0,292.7 L1500.8,291.0 L1502.0,292.0 L1503.2,290.0" fill="none" stroke="#1fa5e6" stroke-width="2.25" stroke-linejoin="round" stroke-linecap="round"/>
<path d="M89.0,636.0 L89.7,634.2 L90.3,632.8 L91.0,631.0 L91.8,632.0 L92.5,631.4 L93.2,631.8 L94.0,632.0 L94.8,631.4 L95.5,629.9 L96.2,629.8 L97.0,629.0 L97.8,627.1 L98.5,625.3 L99.2,621.1 L100.0,620.0 L100.7,617.4 L101.3,614.9 L102.0,614.0 L102.7,615.7 L103.3,616.4 L104.0,617.0 L104.8,615.6 L105.5,616.9 L106.2,616.4 L107.0,615.0 L107.8,615.5 L108.5,615.7 L109.2,615.2 L110.0,616.0 L110.7,614.8 L111.3,615.4 L112.0,615.0 L112.6,626.0 L113.6,617.0 L114.4,613.4 L115.2,611.5 L116.0,610.0 L116.7,605.3 L117.3,600.7 L118.0,598.0 L118.8,592.9 L119.6,588.0 L120.6,592.0 L121.3,588.8 L122.0,586.0 L122.8,581.0 L123.6,574.0 L124.3,567.1 L125.0,560.0 L125.7,551.4 L126.4,542.0 L127.6,526.0 L128.4,518.0 L129.0,528.0 L130.0,504.0 L131.0,494.0 L132.0,486.0 L133.0,487.0 L134.0,513.0 L135.0,496.0 L136.0,503.0 L137.0,511.0 L138.0,530.0 L139.0,517.0 L139.7,514.0 L140.4,511.0 L141.2,509.9 L142.0,508.0 L142.7,505.2 L143.3,502.0 L144.0,500.0 L144.8,502.7 L145.6,503.0 L146.4,505.0 L147.2,505.0 L148.0,505.5 L148.8,505.0 L149.6,506.4 L150.4,507.0 L151.6,510.0 L152.4,507.5 L153.2,506.0 L154.0,507.7 L154.8,511.0 L155.6,513.4 L156.4,517.0 L157.2,517.9 L158.0,521.0 L158.8,523.7 L159.6,525.0 L160.3,526.7 L161.0,529.0 L161.7,527.0 L162.4,523.0 L163.6,517.0 L164.4,518.2 L165.2,520.0 L166.0,521.3 L166.8,521.0 L167.6,523.9 L168.4,525.0 L169.2,525.3 L170.0,528.0 L170.8,531.2 L171.6,536.0 L172.4,539.1 L173.2,540.0 L174.4,542.0 L175.4,551.0 L176.4,538.0 L177.6,531.0 L178.4,532.9 L179.2,535.0 L180.0,538.8 L180.8,540.0 L181.6,540.3 L182.4,541.0 L183.2,540.7 L184.0,542.0 L184.7,541.9 L185.3,541.8 L186.0,541.0 L186.7,540.3 L187.3,539.6 L188.0,540.0 L188.8,535.0 L189.6,531.0 L190.4,528.8 L191.2,524.0 L192.0,521.7 L192.8,518.0 L193.6,517.4 L194.4,518.0 L195.2,519.8 L196.0,523.0 L196.8,522.8 L197.6,524.0 L198.4,523.7 L199.2,525.0 L200.4,527.0 L201.2,525.8 L202.0,523.0 L202.8,520.2 L203.6,519.0 L204.4,519.6 L205.2,520.0 L206.0,519.9 L206.8,520.0 L207.6,519.9 L208.4,521.0 L209.2,521.7 L210.0,521.6 L210.8,522.0 L211.6,524.0 L212.8,526.0 L213.6,525.3 L214.4,524.0 L215.2,523.8 L216.0,525.0 L216.8,528.3 L217.6,532.0 L218.8,537.0 L220.0,533.0 L220.8,533.0 L221.6,534.0 L222.4,534.5 L223.2,536.0 L224.0,537.4 L224.8,537.0 L225.5,537.5 L226.1,536.7 L226.8,537.0 L227.6,540.0 L228.4,541.0 L229.6,547.0 L230.8,544.0 L231.6,545.7 L232.4,549.0 L233.6,554.0 L234.6,560.0 L235.3,555.7 L236.0,552.0 L236.8,550.9 L237.6,548.0 L238.4,549.3 L239.2,550.0 L240.0,551.0 L240.8,554.0 L241.6,557.3 L242.4,558.0 L243.2,558.4 L244.0,560.0 L244.8,556.3 L245.6,554.0 L246.3,550.3 L247.0,545.0 L247.7,546.5 L248.4,549.0 L249.2,550.9 L250.0,554.0 L250.8,551.5 L251.6,551.0 L252.4,550.3 L253.2,551.0 L254.0,550.7 L254.8,550.0 L255.6,550.9 L256.4,553.0 L257.2,554.7 L258.0,556.0 L258.8,557.7 L259.6,560.0 L260.4,558.9 L261.2,558.0 L262.0,561.2 L262.8,562.0 L263.6,563.0 L264.4,564.0 L265.6,570.0 L266.8,568.0 L267.6,578.0 L268.2,595.0 L269.2,586.0 L270.4,581.0 L271.6,570.0 L272.8,576.0 L274.0,582.0 L274.8,582.1 L275.6,582.0 L276.4,582.6 L277.2,582.0 L278.4,574.0 L279.2,575.2 L280.0,578.0 L280.8,576.3 L281.6,576.0 L282.4,575.1 L283.2,572.0 L284.0,570.8 L284.8,568.0 L285.5,566.4 L286.1,565.3 L286.8,565.0 L287.6,566.5 L288.4,567.0 L289.2,570.1 L290.0,571.0 L290.8,571.8 L291.6,574.0 L292.4,574.3 L293.2,573.0 L294.0,574.2 L294.8,574.0 L295.6,576.3 L296.4,578.0 L297.2,579.6 L298.0,581.6 L298.7,580.7 L299.3,580.4 L300.0,581.0 L300.7,581.5 L301.3,579.9 L302.0,580.0 L302.7,579.7 L303.3,578.2 L304.0,578.0 L304.7,578.2 L305.3,577.5 L306.0,577.0 L306.7,577.0 L307.3,577.1 L308.0,578.0 L308.7,578.5 L309.3,577.6 L310.0,578.5 L310.7,578.1 L311.3,578.6 L312.0,578.5 L312.7,580.3 L313.3,580.8 L314.0,581.5 L314.7,580.6 L315.3,581.3 L316.0,580.0 L316.7,578.3 L317.3,576.9 L318.0,577.0 L318.7,576.6 L319.3,576.9 L320.0,577.0 L320.7,575.0 L321.3,574.3 L322.0,574.0 L322.7,573.1 L323.3,572.8 L324.0,572.0 L324.7,569.8 L325.3,569.0 L326.0,568.0 L327.2,563.0 L328.4,568.0 L329.2,568.2 L330.0,567.0 L330.7,567.3 L331.3,566.0 L332.0,565.0 L332.7,566.0 L333.3,566.5 L334.0,567.0 L334.7,567.2 L335.3,568.0 L336.0,570.0 L336.8,570.0 L337.6,572.0 L338.3,575.6 L339.0,577.0 L340.0,582.0 L340.8,583.4 L341.6,584.0 L342.3,583.3 L343.0,580.0 L343.7,578.8 L344.3,579.6 L345.0,579.0 L345.7,578.3 L346.3,578.1 L347.0,577.0 L347.7,577.3 L348.3,579.3 L349.0,579.0 L349.7,578.3 L350.3,579.1 L351.0,579.0 L351.7,579.1 L352.3,579.1 L353.0,578.0 L353.7,578.1 L354.3,577.7 L355.0,577.0 L355.7,576.9 L356.3,576.5 L357.0,575.0 L357.7,573.7 L358.3,573.4 L359.0,572.0 L359.7,571.6 L360.3,570.2 L361.0,568.0 L361.8,565.3 L362.6,563.0 L363.3,560.3 L364.0,556.0 L365.2,547.0 L366.4,551.0 L367.6,561.0 L368.3,560.8 L369.0,559.0 L369.7,559.6 L370.4,560.0 L371.2,559.7 L372.0,559.0 L372.8,556.2 L373.6,554.0 L374.4,552.2 L375.2,550.0 L376.0,547.3 L376.8,544.0 L377.6,540.9 L378.4,540.0 L379.2,539.5 L380.0,538.4 L380.8,540.2 L381.6,540.0 L382.4,541.8 L383.2,542.0 L384.0,541.9 L384.8,541.0 L385.6,540.1 L386.4,539.6 L387.2,541.3 L388.0,542.0 L389.2,551.0 L390.4,547.0 L391.2,548.2 L392.0,549.0 L392.8,549.4 L393.6,550.0 L394.4,551.5 L395.2,551.6 L396.0,550.6 L396.8,551.0 L397.6,550.5 L398.4,549.0 L399.2,545.2 L400.0,544.0 L401.2,541.0 L402.0,541.9 L402.8,542.4 L403.6,543.0 L404.4,543.6 L405.2,544.0 L406.0,545.6 L406.7,545.7 L407.3,545.1 L408.0,544.8 L408.7,544.9 L409.3,545.2 L410.0,544.4 L410.7,543.9 L411.3,543.3 L412.0,544.0 L412.7,543.8 L413.3,544.6 L414.0,544.4 L414.7,543.6 L415.3,543.3 L416.0,543.6 L416.7,544.1 L417.3,543.5 L418.0,543.0 L418.7,542.6 L419.3,543.0 L420.0,542.0 L420.7,540.6 L421.3,540.4 L422.0,539.0 L422.7,538.3 L423.3,538.5 L424.0,538.4 L424.7,539.1 L425.3,539.5 L426.0,539.0 L426.7,539.5 L427.3,538.4 L428.0,538.4 L428.8,539.2 L429.6,539.6 L430.3,540.4 L431.0,542.0 L431.7,539.0 L432.4,538.0 L433.6,534.0 L434.8,528.0 L436.0,526.0 L437.2,524.0 L438.4,517.0 L439.6,510.0 L440.8,509.0 L442.0,522.0 L443.2,515.0 L444.0,516.0 L444.8,517.0 L445.6,516.7 L446.4,515.0 L447.2,516.7 L448.0,517.0 L448.7,517.3 L449.3,517.7 L450.0,517.0 L450.7,516.3 L451.3,515.7 L452.0,516.0 L452.7,516.6 L453.3,516.9 L454.0,518.0 L455.2,524.0 L456.0,530.0 L457.2,525.0 L458.1,524.8 L459.0,525.6 L459.7,525.6 L460.3,526.1 L461.0,526.0 L461.7,525.7 L462.3,525.0 L463.0,525.0 L463.7,525.9 L464.3,526.5 L465.0,526.0 L465.7,524.6 L466.3,522.3 L467.0,522.0 L467.7,520.8 L468.3,522.0 L469.0,521.0 L469.7,520.5 L470.3,522.0 L471.0,522.0 L471.7,522.5 L472.3,522.3 L473.0,523.0 L473.7,523.2 L474.3,521.5 L475.0,522.0 L475.7,521.3 L476.3,521.7 L477.0,521.6 L477.7,520.2 L478.3,521.2 L479.0,520.0 L479.7,519.6 L480.3,519.4 L481.0,520.0 L481.7,518.0 L482.3,518.3 L483.0,517.0 L483.7,515.5 L484.3,514.6 L485.0,513.0 L485.7,512.3 L486.4,511.0 L487.2,512.6 L488.0,513.0 L488.8,513.0 L489.6,511.0 L490.4,511.8 L491.2,512.0 L492.0,509.8 L492.8,509.0 L493.6,509.9 L494.4,511.0 L495.2,509.3 L496.0,509.0 L496.7,507.8 L497.3,508.3 L498.0,508.0 L498.7,508.1 L499.3,506.8 L500.0,507.0 L500.8,505.5 L501.6,505.0 L502.4,502.1 L503.2,500.0 L504.0,498.1 L504.8,495.0 L506.0,492.0 L507.0,487.0 L508.0,496.0 L509.2,505.0 L510.4,499.0 L511.2,498.5 L512.0,498.0 L512.8,498.2 L513.6,498.0 L514.4,497.5 L515.2,496.0 L516.0,494.2 L516.8,493.0 L517.6,492.6 L518.4,491.0 L519.2,492.3 L520.0,492.0 L520.8,488.9 L521.6,488.0 L522.4,487.1 L523.2,484.0 L524.0,483.0 L524.8,481.0 L525.6,478.6 L526.4,478.0 L527.2,478.9 L528.0,480.0 L529.2,485.0 L530.4,481.0 L531.6,489.0 L532.3,492.4 L533.0,495.0 L533.7,494.1 L534.4,491.0 L535.2,488.7 L536.0,487.0 L536.7,486.2 L537.3,485.8 L538.0,484.0 L538.7,483.9 L539.3,483.6 L540.0,482.0 L540.7,481.6 L541.3,481.6 L542.0,481.0 L542.7,478.6 L543.3,478.2 L544.0,476.0 L544.7,474.9 L545.3,472.4 L546.0,470.0 L546.7,468.3 L547.3,464.5 L548.0,463.0 L548.8,461.6 L549.6,458.0 L550.8,460.0 L552.0,452.0 L552.8,448.3 L553.6,442.0 L554.8,449.0 L556.0,440.0 L556.8,437.8 L557.6,433.0 L558.3,431.6 L559.0,430.0 L559.7,432.8 L560.4,434.0 L561.6,438.0 L562.3,436.1 L563.0,435.0 L563.7,438.1 L564.4,439.0 L565.2,439.2 L566.0,438.0 L566.8,437.2 L567.6,437.0 L568.4,437.9 L569.2,441.0 L570.4,445.0 L571.2,454.0 L572.0,433.0 L572.8,433.4 L573.6,434.0 L574.4,433.1 L575.2,432.0 L576.0,431.6 L576.8,430.0 L577.6,425.0 L578.4,420.0 L579.2,414.2 L580.0,411.0 L580.8,409.4 L581.6,406.0 L582.4,406.1 L583.2,408.0 L584.0,406.8 L584.8,404.0 L585.6,401.1 L586.4,400.0 L587.2,401.6 L588.0,404.0 L588.8,407.3 L589.6,409.0 L590.8,422.0 L592.0,412.0 L592.8,412.7 L593.6,415.0 L594.4,411.5 L595.2,410.0 L596.0,408.5 L596.8,407.0 L597.6,406.0 L598.4,404.0 L599.2,401.0 L600.0,396.0 L600.8,393.0 L601.6,389.0 L602.4,389.3 L603.2,388.0 L604.0,387.5 L604.8,387.0 L605.6,385.8 L606.4,382.0 L607.2,377.3 L608.0,375.0 L608.8,374.6 L609.6,375.0 L610.6,388.0 L611.6,373.0 L612.3,371.4 L612.9,369.1 L613.6,368.0 L614.3,365.3 L614.9,361.7 L615.6,358.0 L616.3,354.1 L616.9,351.0 L617.6,346.0 L618.3,336.2 L619.0,326.0 L619.7,325.7 L620.4,326.0 L621.2,321.7 L622.0,318.0 L622.8,323.5 L623.6,327.0 L624.3,331.6 L625.0,334.0 L625.7,335.2 L626.3,339.0 L627.0,340.0 L627.8,334.3 L628.6,326.0 L629.3,331.1 L630.0,336.0 L630.7,338.9 L631.3,340.5 L632.0,344.0 L632.7,346.1 L633.3,348.0 L634.0,350.0 L634.7,350.2 L635.3,349.2 L636.0,350.0 L636.8,356.3 L637.6,360.0 L638.3,369.5 L639.0,379.0 L640.0,368.0 L640.8,363.7 L641.6,360.0 L642.3,357.8 L642.9,354.2 L643.6,351.0 L644.3,352.0 L644.9,353.4 L645.6,354.0 L646.3,351.6 L646.9,351.4 L647.6,350.0 L648.3,352.4 L648.9,356.6 L649.6,358.0 L650.3,361.9 L650.9,362.7 L651.6,366.0 L652.3,364.9 L653.0,364.0 L653.7,365.6 L654.3,369.1 L655.0,372.0 L655.7,374.9 L656.3,377.1 L657.0,378.0 L657.7,378.6 L658.3,379.0 L659.0,380.0 L659.7,376.5 L660.3,375.0 L661.0,372.0 L661.7,371.2 L662.3,367.0 L663.0,366.0 L663.7,364.8 L664.3,360.7 L665.0,360.0 L665.6,359.2 L666.3,359.0 L667.0,359.6 L667.6,359.0 L668.4,360.2 L669.2,362.0 L670.0,364.0 L670.7,365.3 L671.3,365.1 L672.0,367.0 L672.7,367.7 L673.3,367.0 L674.0,368.0 L674.7,370.0 L675.3,371.3 L676.0,374.0 L676.8,373.2 L677.5,373.6 L678.2,373.1 L679.0,373.0 L679.7,375.0 L680.3,377.4 L681.0,380.0 L681.7,381.4 L682.3,381.9 L683.0,384.0 L683.7,383.5 L684.3,384.2 L685.0,384.0 L685.7,385.8 L686.4,387.0 L687.2,384.6 L688.0,382.0 L688.8,381.7 L689.6,380.0 L690.4,382.3 L691.2,384.0 L692.1,381.0 L693.0,376.0 L693.7,372.6 L694.3,371.3 L695.0,368.0 L695.7,369.1 L696.4,369.0 L697.2,373.6 L698.0,376.0 L698.7,377.8 L699.3,380.1 L700.0,383.0 L700.8,384.9 L701.6,385.0 L702.3,383.4 L702.9,384.1 L703.6,382.0 L704.3,382.4 L704.9,380.7 L705.6,381.0 L706.3,378.7 L706.9,378.3 L707.6,376.0 L708.3,377.3 L709.0,380.0 L709.7,380.9 L710.4,384.0 L711.1,384.3 L711.7,383.2 L712.4,383.0 L713.1,382.9 L713.7,380.9 L714.4,381.0 L715.1,381.2 L715.7,382.0 L716.4,382.0 L717.1,381.2 L717.7,381.5 L718.4,382.0 L719.1,383.0 L719.7,384.2 L720.4,384.0 L721.2,385.4 L722.0,385.0 L722.7,383.6 L723.3,383.7 L724.0,383.0 L724.7,383.4 L725.3,383.0 L726.0,383.0 L726.8,383.1 L727.5,382.0 L728.2,381.5 L729.0,382.0 L729.6,381.7 L730.3,382.1 L731.0,383.6 L731.6,384.0 L732.3,387.0 L733.0,390.0 L733.7,394.2 L734.4,398.0 L735.6,408.0 L736.3,407.8 L737.0,409.0 L738.0,414.0 L738.8,416.1 L739.6,420.0 L740.3,420.4 L741.0,422.0 L741.7,423.7 L742.4,424.0 L743.6,418.0 L744.3,415.9 L745.0,411.0 L745.7,414.7 L746.4,416.0 L747.2,413.5 L748.0,413.0 L748.8,413.1 L749.6,415.0 L750.3,414.2 L751.0,411.0 L751.7,413.4 L752.4,416.0 L753.1,416.8 L753.7,416.4 L754.4,417.0 L755.1,417.6 L755.7,418.4 L756.4,419.0 L757.1,419.2 L757.7,419.8 L758.4,420.0 L759.2,419.6 L760.0,421.0 L760.7,420.4 L761.3,419.8 L762.0,418.0 L762.7,416.7 L763.3,416.6 L764.0,416.0 L764.8,414.6 L765.6,412.0 L766.3,412.5 L766.9,412.7 L767.6,414.0 L768.3,413.1 L768.9,413.4 L769.6,413.0 L770.3,411.4 L770.9,412.5 L771.6,411.0 L772.3,411.2 L772.9,410.7 L773.6,410.0 L774.3,411.0 L774.9,410.9 L775.6,411.0 L776.3,409.8 L776.9,409.2 L777.6,408.0 L778.3,403.0 L779.0,398.0 L779.7,398.3 L780.3,397.3 L781.0,396.0 L781.7,395.2 L782.3,396.1 L783.0,395.0 L783.7,394.5 L784.3,393.6 L785.0,392.0 L785.7,393.3 L786.3,393.1 L787.0,394.0 L787.7,393.4 L788.3,391.7 L789.0,389.0 L790.0,386.0 L790.8,382.5 L791.6,378.0 L792.3,374.7 L793.0,370.0 L793.7,371.6 L794.4,372.0 L795.2,368.7 L796.0,366.0 L796.7,366.4 L797.3,365.3 L798.0,366.0 L798.8,368.1 L799.6,371.0 L800.3,369.3 L800.9,366.4 L801.6,366.0 L802.3,362.9 L802.9,361.1 L803.6,358.0 L804.3,355.0 L804.9,350.6 L805.6,348.0 L806.3,346.7 L807.0,343.0 L807.7,347.0 L808.4,350.0 L809.2,346.5 L810.0,344.0 L810.8,346.9 L811.6,349.0 L812.3,352.2 L813.0,355.0 L813.7,354.1 L814.4,353.0 L815.2,356.2 L816.0,360.0 L816.8,359.7 L817.6,357.0 L818.3,353.9 L819.0,350.0 L819.7,349.4 L820.3,348.6 L821.0,347.0 L821.7,350.8 L822.4,352.0 L823.1,352.0 L823.7,354.3 L824.4,355.0 L825.1,355.1 L825.7,353.9 L826.4,354.0 L827.2,355.7 L828.0,358.0 L828.8,354.2 L829.6,353.0 L830.3,352.8 L830.9,353.4 L831.6,354.0 L832.4,353.6 L833.2,354.2 L834.0,355.0 L834.7,356.9 L835.3,357.1 L836.0,358.0 L836.8,363.0 L837.6,368.0 L838.3,369.6 L838.9,369.5 L839.6,370.0 L840.3,370.3 L840.9,368.9 L841.6,368.0 L842.3,370.3 L843.0,371.0 L843.7,369.1 L844.4,369.0 L845.2,371.3 L846.0,373.0 L846.8,368.2 L847.6,362.0 L848.3,360.8 L848.9,362.1 L849.6,361.0 L850.3,361.0 L850.9,362.3 L851.6,363.0 L852.3,363.5 L852.9,365.7 L853.6,367.0 L854.3,368.6 L854.9,368.6 L855.6,371.0 L856.3,373.8 L856.9,374.1 L857.6,376.0 L858.3,375.4 L858.9,374.9 L859.6,374.0 L860.3,374.4 L860.9,374.9 L861.6,376.0 L862.4,376.8 L863.2,377.0 L863.9,379.2 L864.6,381.0 L865.3,377.4 L866.0,375.0 L866.7,375.7 L867.3,375.3 L868.0,376.0 L868.7,374.8 L869.3,374.9 L870.0,375.0 L870.8,371.2 L871.6,370.0 L872.3,367.8 L872.9,367.9 L873.6,366.0 L874.3,365.1 L874.9,365.5 L875.6,364.0 L876.3,365.5 L877.0,366.0 L877.7,362.8 L878.4,362.0 L879.1,362.3 L879.7,361.6 L880.4,360.0 L881.1,358.1 L881.7,358.9 L882.4,357.0 L883.1,356.2 L883.7,355.6 L884.4,355.0 L885.1,356.6 L885.7,355.8 L886.4,357.0 L887.2,358.6 L888.0,360.0 L888.8,364.7 L889.6,367.0 L890.3,365.6 L891.0,363.0 L892.0,374.0 L893.0,398.0 L894.0,390.0 L895.0,384.0 L895.7,385.4 L896.4,387.0 L897.6,379.0 L898.3,382.3 L899.0,383.0 L899.7,381.4 L900.4,378.0 L901.2,376.7 L902.0,375.0 L902.8,376.4 L903.6,380.0 L904.3,378.8 L905.0,377.0 L905.7,376.4 L906.4,376.0 L907.2,371.2 L908.0,368.0 L908.8,363.7 L909.6,362.0 L910.4,360.1 L911.2,358.0 L911.9,359.9 L912.6,364.0 L913.3,361.8 L914.0,360.0 L914.7,361.0 L915.3,361.2 L916.0,362.0 L916.7,360.5 L917.3,360.2 L918.0,359.0 L918.7,358.2 L919.3,358.2 L920.0,357.0 L920.7,357.7 L921.3,359.3 L922.0,359.0 L922.8,360.1 L923.6,360.1 L924.4,360.0 L925.0,359.8 L925.7,359.8 L926.4,361.4 L927.0,361.0 L927.8,361.7 L928.5,361.7 L929.2,361.5 L930.0,362.0 L930.8,361.4 L931.5,361.8 L932.2,361.4 L933.0,361.0 L933.6,361.1 L934.3,361.2 L935.0,361.4 L935.6,361.0 L936.3,358.1 L936.9,356.3 L937.6,355.0 L938.3,353.8 L939.0,350.0 L939.7,349.9 L940.3,348.8 L941.0,347.0 L941.6,345.9 L942.3,345.7 L943.0,345.8 L943.6,346.0 L944.3,345.5 L944.9,345.6 L945.6,345.0 L946.3,345.1 L946.9,347.1 L947.6,348.0 L948.3,346.9 L948.9,346.6 L949.6,347.0 L950.3,350.0 L951.0,352.0 L951.7,354.1 L952.4,356.0 L953.1,355.6 L953.7,354.4 L954.4,354.0 L955.1,353.3 L955.7,352.1 L956.4,352.0 L957.1,352.4 L957.7,353.8 L958.4,354.0 L959.1,354.3 L959.7,352.6 L960.4,353.0 L961.1,351.6 L961.7,352.3 L962.4,351.0 L963.1,350.3 L963.7,349.6 L964.4,348.0 L965.1,346.0 L965.7,345.2 L966.4,344.0 L967.2,340.8 L968.0,339.0 L968.8,338.7 L969.6,337.0 L970.4,334.1 L971.2,332.0 L972.0,330.4 L972.8,328.0 L973.6,327.3 L974.4,324.0 L975.2,322.1 L976.0,321.0 L976.8,322.6 L977.6,324.0 L978.4,321.2 L979.2,317.0 L980.0,318.9 L980.8,319.0 L981.6,319.8 L982.4,321.0 L983.2,317.1 L984.0,314.0 L984.8,310.4 L985.6,309.0 L986.4,307.6 L987.2,304.0 L988.0,299.3 L988.8,297.0 L989.6,291.3 L990.4,288.0 L991.2,284.2 L992.0,280.0 L993.2,274.0 L994.4,283.0 L995.6,279.0 L996.3,282.5 L997.0,286.0 L997.7,287.8 L998.3,288.2 L999.0,290.0 L999.7,287.8 L1000.4,284.0 L1001.2,278.3 L1002.0,275.0 L1002.8,270.2 L1003.6,267.0 L1004.4,264.5 L1005.2,261.0 L1006.0,256.8 L1006.8,255.0 L1007.6,256.5 L1008.4,259.0 L1009.6,267.0 L1010.3,264.1 L1011.0,260.0 L1011.7,257.5 L1012.4,254.0 L1013.2,251.4 L1014.0,250.0 L1014.8,251.1 L1015.6,254.0 L1016.3,255.0 L1016.9,257.2 L1017.6,258.0 L1018.3,256.3 L1018.9,254.4 L1019.6,254.0 L1020.3,254.0 L1020.9,253.5 L1021.6,253.0 L1022.3,253.2 L1022.9,252.5 L1023.6,251.0 L1024.3,250.5 L1025.0,248.0 L1025.8,251.3 L1026.6,255.0 L1027.3,258.3 L1028.0,260.0 L1028.7,258.2 L1029.3,256.9 L1030.0,256.0 L1030.8,254.8 L1031.6,254.0 L1032.4,254.3 L1033.2,253.0 L1034.0,258.6 L1034.8,262.0 L1035.6,267.3 L1036.4,274.0 L1037.2,277.6 L1038.0,282.0 L1038.8,279.7 L1039.6,278.0 L1040.3,279.2 L1041.0,281.0 L1042.0,277.0 L1042.8,279.7 L1043.6,283.0 L1044.3,279.2 L1045.0,276.0 L1045.7,277.6 L1046.4,281.0 L1047.2,284.2 L1048.0,287.0 L1048.8,285.8 L1049.6,283.0 L1050.3,283.4 L1050.9,284.3 L1051.6,284.0 L1052.3,284.8 L1052.9,284.7 L1053.6,286.0 L1054.3,287.6 L1054.9,288.8 L1055.6,289.0 L1056.4,289.5 L1057.2,291.0 L1058.0,286.2 L1058.8,284.0 L1059.6,280.5 L1060.4,277.0 L1061.2,274.6 L1062.0,272.0 L1062.8,269.7 L1063.6,267.0 L1064.3,267.3 L1064.9,266.0 L1065.6,265.0 L1066.3,264.9 L1066.9,262.8 L1067.6,263.0 L1068.3,263.4 L1068.9,264.2 L1069.6,264.0 L1070.4,262.1 L1071.2,262.0 L1072.0,260.1 L1072.8,260.0 L1073.6,263.2 L1074.4,265.0 L1075.2,266.2 L1076.0,266.0 L1076.8,266.5 L1077.6,269.0 L1078.3,270.8 L1079.0,272.0 L1079.7,269.6 L1080.4,269.0 L1081.2,265.7 L1082.0,261.0 L1082.8,258.4 L1083.6,255.0 L1084.4,252.3 L1085.2,251.0 L1086.0,248.3 L1086.8,247.0 L1087.6,249.1 L1088.4,250.0 L1089.2,249.5 L1090.0,249.0 L1090.7,249.1 L1091.3,248.1 L1092.0,248.0 L1092.7,246.4 L1093.3,246.7 L1094.0,244.4 L1094.8,246.6 L1095.6,248.0 L1096.4,250.0 L1097.2,252.0 L1098.0,253.1 L1098.8,254.0 L1099.6,253.9 L1100.4,253.0 L1101.2,256.1 L1102.0,258.0 L1102.8,261.1 L1103.6,262.0 L1104.4,262.3 L1105.2,263.0 L1106.0,264.7 L1106.8,265.0 L1107.6,263.4 L1108.4,261.0 L1109.2,262.7 L1110.0,263.0 L1110.8,265.2 L1111.6,266.0 L1112.4,267.1 L1113.2,267.0 L1114.0,269.4 L1114.8,270.0 L1115.6,271.3 L1116.4,271.0 L1117.2,273.9 L1118.0,276.0 L1119.0,282.0 L1119.7,280.1 L1120.4,278.0 L1121.2,277.9 L1122.0,277.0 L1122.8,274.3 L1123.6,270.0 L1124.4,268.8 L1125.2,268.0 L1126.0,268.8 L1126.8,270.0 L1127.6,273.0 L1128.4,278.0 L1129.2,277.1 L1130.0,275.0 L1130.8,273.9 L1131.6,270.0 L1132.4,272.7 L1133.2,276.0 L1134.0,275.9 L1134.8,277.0 L1135.6,274.2 L1136.4,273.0 L1137.2,271.8 L1138.0,271.0 L1138.8,268.5 L1139.6,267.0 L1140.4,267.0 L1141.2,265.0 L1142.0,265.1 L1142.8,267.0 L1143.6,268.5 L1144.4,271.0 L1145.2,271.6 L1146.0,274.0 L1146.7,273.9 L1147.3,273.8 L1148.0,273.0 L1148.7,273.3 L1149.3,274.0 L1150.0,276.0 L1150.7,275.9 L1151.3,276.1 L1152.0,276.0 L1153.2,281.0 L1154.4,289.0 L1155.2,292.1 L1156.0,293.0 L1156.8,291.0 L1157.6,291.0 L1158.4,290.8 L1159.2,292.0 L1160.0,290.9 L1160.8,291.0 L1161.6,288.8 L1162.4,288.0 L1163.2,288.4 L1164.0,290.0 L1165.2,298.0 L1166.4,310.0 L1167.6,318.0 L1168.4,316.6 L1169.2,314.0 L1170.0,313.2 L1170.8,312.0 L1171.6,313.7 L1172.4,317.0 L1173.2,313.6 L1174.0,312.0 L1174.8,313.0 L1175.6,315.0 L1176.4,311.6 L1177.2,310.0 L1178.0,309.1 L1178.8,307.0 L1179.6,307.6 L1180.4,309.0 L1181.2,307.6 L1182.0,306.0 L1182.7,306.9 L1183.3,306.6 L1184.0,307.0 L1184.7,305.5 L1185.3,305.9 L1186.0,304.0 L1186.8,307.7 L1187.6,309.0 L1188.4,310.1 L1189.2,312.0 L1190.0,313.1 L1190.8,314.0 L1191.6,316.6 L1192.4,317.0 L1193.2,316.5 L1194.0,316.0 L1194.8,312.2 L1195.6,310.0 L1196.4,311.7 L1197.2,316.0 L1198.0,318.6 L1198.8,319.0 L1199.6,320.1 L1200.4,320.0 L1201.2,318.2 L1202.0,317.0 L1202.8,316.6 L1203.6,316.0 L1204.4,317.0 L1205.2,318.0 L1205.9,317.6 L1206.5,318.8 L1207.2,318.0 L1207.9,317.6 L1208.5,316.1 L1209.2,316.0 L1210.0,313.4 L1210.8,313.0 L1211.6,313.4 L1212.4,314.0 L1213.2,312.7 L1214.0,312.0 L1215.0,322.0 L1216.0,329.0 L1216.7,329.2 L1217.3,328.7 L1218.0,328.0 L1218.7,327.5 L1219.3,326.0 L1220.0,326.0 L1220.7,325.0 L1221.3,325.0 L1222.0,325.0 L1222.7,324.2 L1223.3,325.0 L1224.0,324.0 L1224.8,323.7 L1225.6,323.6 L1226.4,323.0 L1227.2,325.7 L1228.0,326.0 L1228.7,325.5 L1229.3,325.8 L1230.0,325.6 L1230.8,325.4 L1231.6,327.0 L1232.4,327.0 L1233.1,325.3 L1233.7,326.3 L1234.4,325.0 L1235.2,324.3 L1236.0,322.0 L1236.8,318.9 L1237.6,314.0 L1238.4,310.3 L1239.2,309.0 L1240.0,307.5 L1240.8,307.0 L1241.5,307.1 L1242.1,305.6 L1242.8,306.0 L1243.5,306.3 L1244.1,306.6 L1244.8,307.0 L1245.6,309.0 L1246.4,309.0 L1247.2,306.7 L1248.0,304.0 L1248.8,304.2 L1249.6,303.0 L1250.4,304.0 L1251.2,306.0 L1252.0,306.0 L1252.8,305.0 L1253.6,306.8 L1254.4,309.0 L1255.6,314.0 L1256.8,306.0 L1258.0,298.0 L1258.8,297.9 L1259.6,296.0 L1260.3,295.3 L1260.9,296.5 L1261.6,296.0 L1262.3,295.1 L1262.9,295.4 L1263.6,295.0 L1264.3,294.7 L1264.9,293.7 L1265.6,294.0 L1266.4,293.3 L1267.2,291.0 L1268.0,291.6 L1268.8,293.0 L1269.6,293.6 L1270.4,295.0 L1271.2,293.1 L1272.0,293.0 L1272.8,292.7 L1273.6,293.0 L1274.4,294.4 L1275.2,296.0 L1275.9,296.9 L1276.5,296.8 L1277.2,297.6 L1277.9,298.0 L1278.5,297.2 L1279.2,298.0 L1279.9,298.0 L1280.5,298.2 L1281.2,298.4 L1281.9,299.1 L1282.5,298.7 L1283.2,298.0 L1283.9,299.0 L1284.5,298.4 L1285.2,300.0 L1285.9,300.1 L1286.5,301.0 L1287.2,301.0 L1288.4,297.0 L1289.6,291.0 L1290.3,290.2 L1290.9,290.4 L1291.6,290.0 L1292.3,289.8 L1292.9,288.9 L1293.6,289.6 L1294.3,290.6 L1294.9,290.4 L1295.6,290.0 L1296.3,289.4 L1296.9,289.9 L1297.6,289.6 L1298.3,289.8 L1298.9,290.7 L1299.6,291.6 L1300.3,291.9 L1300.9,291.8 L1301.6,292.4 L1302.3,292.1 L1302.9,292.2 L1303.6,292.4 L1304.3,292.5 L1304.9,291.7 L1305.6,292.0 L1306.3,292.0 L1306.9,293.5 L1307.6,293.6 L1308.4,296.1 L1309.2,299.6 L1309.9,300.5 L1310.5,300.0 L1311.2,300.0 L1312.0,299.5 L1312.8,298.0 L1313.6,298.8 L1314.4,300.4 L1315.1,301.2 L1315.7,300.1 L1316.4,301.0 L1317.1,299.6 L1317.7,298.9 L1318.4,299.0 L1319.1,299.3 L1319.7,299.3 L1320.4,299.0 L1321.1,298.1 L1321.7,298.2 L1322.4,298.0 L1323.1,298.3 L1323.7,297.5 L1324.4,297.0 L1325.1,296.6 L1325.7,297.2 L1326.4,298.0 L1327.2,296.3 L1328.0,296.0 L1329.2,291.0 L1330.4,285.0 L1331.2,283.2 L1332.0,283.0 L1332.7,282.5 L1333.3,281.6 L1334.0,282.0 L1334.7,281.9 L1335.3,279.8 L1336.0,279.0 L1336.7,279.4 L1337.3,279.9 L1338.0,280.0 L1338.7,279.9 L1339.3,279.3 L1340.0,278.0 L1340.7,277.5 L1341.3,277.0 L1342.0,277.0 L1342.8,275.3 L1343.6,274.0 L1344.3,270.7 L1345.0,270.0 L1345.7,270.2 L1346.3,271.0 L1347.0,271.0 L1347.7,271.3 L1348.3,270.2 L1349.0,269.0 L1349.7,269.6 L1350.3,269.9 L1351.0,270.0 L1351.7,268.4 L1352.3,268.3 L1353.0,268.0 L1353.7,267.4 L1354.3,267.6 L1355.0,267.0 L1355.7,266.0 L1356.3,266.1 L1357.0,266.0 L1357.7,267.0 L1358.3,268.6 L1359.0,269.0 L1359.7,271.1 L1360.3,271.9 L1361.0,273.0 L1361.7,271.7 L1362.3,272.2 L1363.0,271.0 L1363.7,271.4 L1364.3,270.4 L1365.0,270.0 L1365.8,267.6 L1366.6,266.0 L1367.3,263.5 L1368.0,261.0 L1368.8,259.2 L1369.6,259.0 L1370.4,258.9 L1371.2,258.0 L1372.0,256.4 L1372.8,252.0 L1373.6,249.0 L1374.4,246.0 L1375.2,244.6 L1376.0,242.0 L1376.8,241.7 L1377.6,240.0 L1378.4,241.7 L1379.2,245.0 L1380.0,246.9 L1380.8,247.0 L1381.6,244.9 L1382.4,242.0 L1383.2,241.9 L1384.0,243.0 L1384.8,241.1 L1385.6,241.0 L1386.4,242.3 L1387.2,245.0 L1388.0,244.6 L1388.8,244.0 L1389.6,246.0 L1390.4,247.0 L1391.2,247.2 L1392.0,248.0 L1392.8,251.1 L1393.6,252.0 L1394.4,250.2 L1395.2,249.0 L1396.0,248.4 L1396.8,248.0 L1397.6,245.6 L1398.4,245.0 L1399.2,245.0 L1400.0,243.0 L1400.8,241.2 L1401.6,241.0 L1402.4,242.8 L1403.2,243.0 L1404.0,242.1 L1404.8,241.0 L1405.6,241.6 L1406.4,242.0 L1407.2,243.1 L1408.0,244.0 L1408.8,244.5 L1409.6,246.0 L1410.4,248.5 L1411.2,249.0 L1412.0,250.4 L1412.8,250.0 L1413.6,251.7 L1414.4,252.0 L1415.6,254.0 L1416.4,252.7 L1417.2,251.0 L1418.0,248.0 L1418.8,247.0 L1419.6,246.3 L1420.4,244.0 L1421.2,243.1 L1422.0,243.0 L1422.8,244.2 L1423.6,244.0 L1424.8,249.0 L1426.0,256.0 L1426.8,253.3 L1427.6,252.0 L1428.4,251.2 L1429.2,250.0 L1430.0,251.1 L1430.8,251.0 L1432.0,247.0 L1432.8,247.8 L1433.6,250.0 L1434.4,251.6 L1435.2,253.0 L1436.4,256.0 L1437.2,252.9 L1438.0,252.0 L1438.8,249.4 L1439.6,249.0 L1440.4,247.9 L1441.2,248.0 L1442.0,247.3 L1442.8,244.0 L1443.6,245.3 L1444.4,245.0 L1445.2,247.4 L1446.0,249.0 L1446.8,248.1 L1447.6,248.0 L1448.4,246.9 L1449.2,245.0 L1450.0,244.9 L1450.8,244.0 L1451.6,242.8 L1452.4,242.0 L1453.2,241.7 L1454.0,241.0 L1454.8,242.6 L1455.6,243.0 L1456.3,239.1 L1457.0,238.0 L1457.7,232.7 L1458.4,229.0 L1459.2,226.4 L1460.0,224.0 L1460.8,222.0 L1461.6,221.6 L1462.4,221.8 L1463.2,222.4 L1464.0,221.8 L1464.8,221.0 L1465.6,220.7 L1466.4,221.6 L1467.2,220.8 L1468.0,220.0 L1468.8,218.5 L1469.6,218.0 L1470.4,219.7 L1471.2,221.0 L1472.0,221.6 L1472.8,223.0 L1473.6,224.3 L1474.4,225.0 L1475.2,222.4 L1476.0,222.0 L1476.8,223.4 L1477.6,224.0 L1478.4,221.7 L1479.2,221.0 L1480.0,220.7 L1480.8,218.4 L1481.6,218.2 L1482.4,217.6 L1483.2,217.7 L1484.0,218.0 L1484.8,218.6 L1485.6,219.6 L1486.4,220.5 L1487.2,221.0 L1488.0,221.6 L1488.8,221.6 L1489.6,222.2 L1490.4,222.0 L1491.2,223.0 L1492.0,223.0 L1493.2,225.0 L1494.4,230.0 L1495.6,227.0 L1496.8,231.0 L1498.0,233.6 L1499.2,231.6 L1500.0,230.8 L1500.8,230.0 L1502.0,231.0 L1503.2,229.0" fill="none" stroke="#000" stroke-width="2.4" stroke-linejoin="round" stroke-linecap="round"/>
<!-- axes -->
<rect x="88.300" y="170" width="1.600" height="601.400" fill="#4a4a4a"/>
<rect x="88.300" y="769.800" width="1420.500" height="1.600" fill="#4a4a4a"/>
<rect x="1508" y="170" width="1.200" height="601.400" fill="#333"/>
<g class="tk" text-anchor="end">
<text x="85.500" y="204.800" textLength="33.300" lengthAdjust="spacingAndGlyphs">100%</text>
<text x="85.500" y="294.800" textLength="26.400" lengthAdjust="spacingAndGlyphs">50%</text>
<text x="85.500" y="384.800" textLength="19.400" lengthAdjust="spacingAndGlyphs">0%</text>
<text x="85.500" y="474.800" textLength="34.500" lengthAdjust="spacingAndGlyphs">−50%</text>
<text x="85.500" y="564.800" textLength="42" lengthAdjust="spacingAndGlyphs">−100%</text>
<text x="85.500" y="654.800" textLength="42" lengthAdjust="spacingAndGlyphs">−150%</text>
<text x="85.500" y="744.800" textLength="42" lengthAdjust="spacingAndGlyphs">−200%</text>
</g>
<g class="tx">
<text x="1512.7" y="225.9" textLength="42.3" lengthAdjust="spacingAndGlyphs">$100k</text>
<text x="1512.7" y="362.1" textLength="33.5" lengthAdjust="spacingAndGlyphs">$10k</text>
<text x="1512.7" y="498.2" textLength="25" lengthAdjust="spacingAndGlyphs">$1k</text>
<text x="1512.7" y="634" textLength="33.8" lengthAdjust="spacingAndGlyphs">$100</text>
</g>
<g class="tx" text-anchor="middle">
<text x="142.500" y="788.5" textLength="34.300" lengthAdjust="spacingAndGlyphs">2014</text>
<text x="384.700" y="788.5" textLength="34.300" lengthAdjust="spacingAndGlyphs">2016</text>
<text x="626.900" y="788.5" textLength="34.300" lengthAdjust="spacingAndGlyphs">2018</text>
<text x="869.100" y="788.5" textLength="34.300" lengthAdjust="spacingAndGlyphs">2020</text>
<text x="1111.300" y="788.5" textLength="34.300" lengthAdjust="spacingAndGlyphs">2022</text>
<text x="1353.500" y="788.5" textLength="34.300" lengthAdjust="spacingAndGlyphs">2024</text>
</g>
<text transform="translate(1565.8 470.4) rotate(-90)" text-anchor="middle" font-size="17" fill="#222" textLength="129" lengthAdjust="spacingAndGlyphs">BTC Price (USD)</text>
<!-- legend -->
<rect x="95.700" y="846.500" width="33.700" height="1.900" fill="#1fa5e6"/>
<text class="lg" x="136.200" y="854" textLength="262.400" lengthAdjust="spacingAndGlyphs">Net Unrealised Profit / Loss (NUPL)</text>
<rect x="412" y="846.500" width="33.700" height="2" fill="#000"/>
<text class="lg" x="452.500" y="854" textLength="69.800" lengthAdjust="spacingAndGlyphs">BTC Price</text>
<!-- annotation -->
<path d="M1498.7,255.2 a31.2,31.2 0 1 1 -0.01,0" fill="none" stroke="#111" stroke-width="4.55" stroke-dasharray="13.07,5.44"/>
<line x1="1295.0" y1="563.0" x2="1452.0" y2="348.0" stroke="#111" stroke-width="4.200" stroke-dasharray="4.200,4.600"/>
<polygon points="1463.500,332.500 1461.500,351.500 1445,339.500" fill="#111"/>
<text x="707.15" y="634.5" font-size="34" fill="#111" textLength="61.62" lengthAdjust="spacingAndGlyphs">The</text>
<text x="778.58" y="634.5" font-size="34" fill="#111" textLength="114.86" lengthAdjust="spacingAndGlyphs">market</text>
<text x="904.64" y="634.5" font-size="34" fill="#111" textLength="25.90" lengthAdjust="spacingAndGlyphs">is</text>
<text x="940.66" y="634.5" font-size="34" fill="#111" textLength="111.38" lengthAdjust="spacingAndGlyphs">exiting</text>
<text x="1060.98" y="634.5" font-size="34" fill="#111" textLength="17.73" lengthAdjust="spacingAndGlyphs">a</text>
<text x="1090.82" y="634.5" font-size="34" fill="#111" textLength="107.44" lengthAdjust="spacingAndGlyphs">period</text>
<text x="1207.54" y="634.5" font-size="34" fill="#111" textLength="30.77" lengthAdjust="spacingAndGlyphs">of</text>
<text x="1250.31" y="634.5" font-size="34" fill="#111" textLength="117.77" lengthAdjust="spacingAndGlyphs">anxiety</text>
<text x="1379.69" y="634.5" font-size="34" fill="#111" textLength="63.24" lengthAdjust="spacingAndGlyphs">and</text>
<text x="738.67" y="683.3" font-size="34" fill="#111" textLength="189.07" lengthAdjust="spacingAndGlyphs">re-entering</text>
<text x="939.48" y="683.3" font-size="34" fill="#111" textLength="50.78" lengthAdjust="spacingAndGlyphs">the</text>
<text x="1001.66" y="683.3" font-size="34" fill="#111" textLength="90.42" lengthAdjust="spacingAndGlyphs">belief</text>
<text x="1102.64" y="683.3" font-size="34" fill="#111" textLength="100.20" lengthAdjust="spacingAndGlyphs">phase</text>
<text x="1213.57" y="683.3" font-size="34" fill="#111" textLength="30.74" lengthAdjust="spacingAndGlyphs">of</text>
<text x="1257.36" y="683.3" font-size="34" fill="#111" textLength="50.02" lengthAdjust="spacingAndGlyphs">the</text>
<text x="1320.16" y="683.3" font-size="34" fill="#111" textLength="87.86" lengthAdjust="spacingAndGlyphs">cycle</text>
<text x="1344.8" y="895.6" font-size="17" fill="#505050" textLength="12.20" lengthAdjust="spacingAndGlyphs">©</text>
<text x="1363.7" y="895.6" font-size="17" fill="#505050" textLength="37.10" lengthAdjust="spacingAndGlyphs">2025</text>
<text x="1407.9" y="895.6" font-size="17" fill="#505050" textLength="50.30" lengthAdjust="spacingAndGlyphs">Bitcoin</text>
<text x="1464.9" y="895.6" font-size="17" fill="#505050" textLength="71.70" lengthAdjust="spacingAndGlyphs">Magazine</text>
<text x="1542.8" y="895.6" font-size="17" fill="#505050" textLength="28.70" lengthAdjust="spacingAndGlyphs">Pro.</text>
</svg>
</body></html>
